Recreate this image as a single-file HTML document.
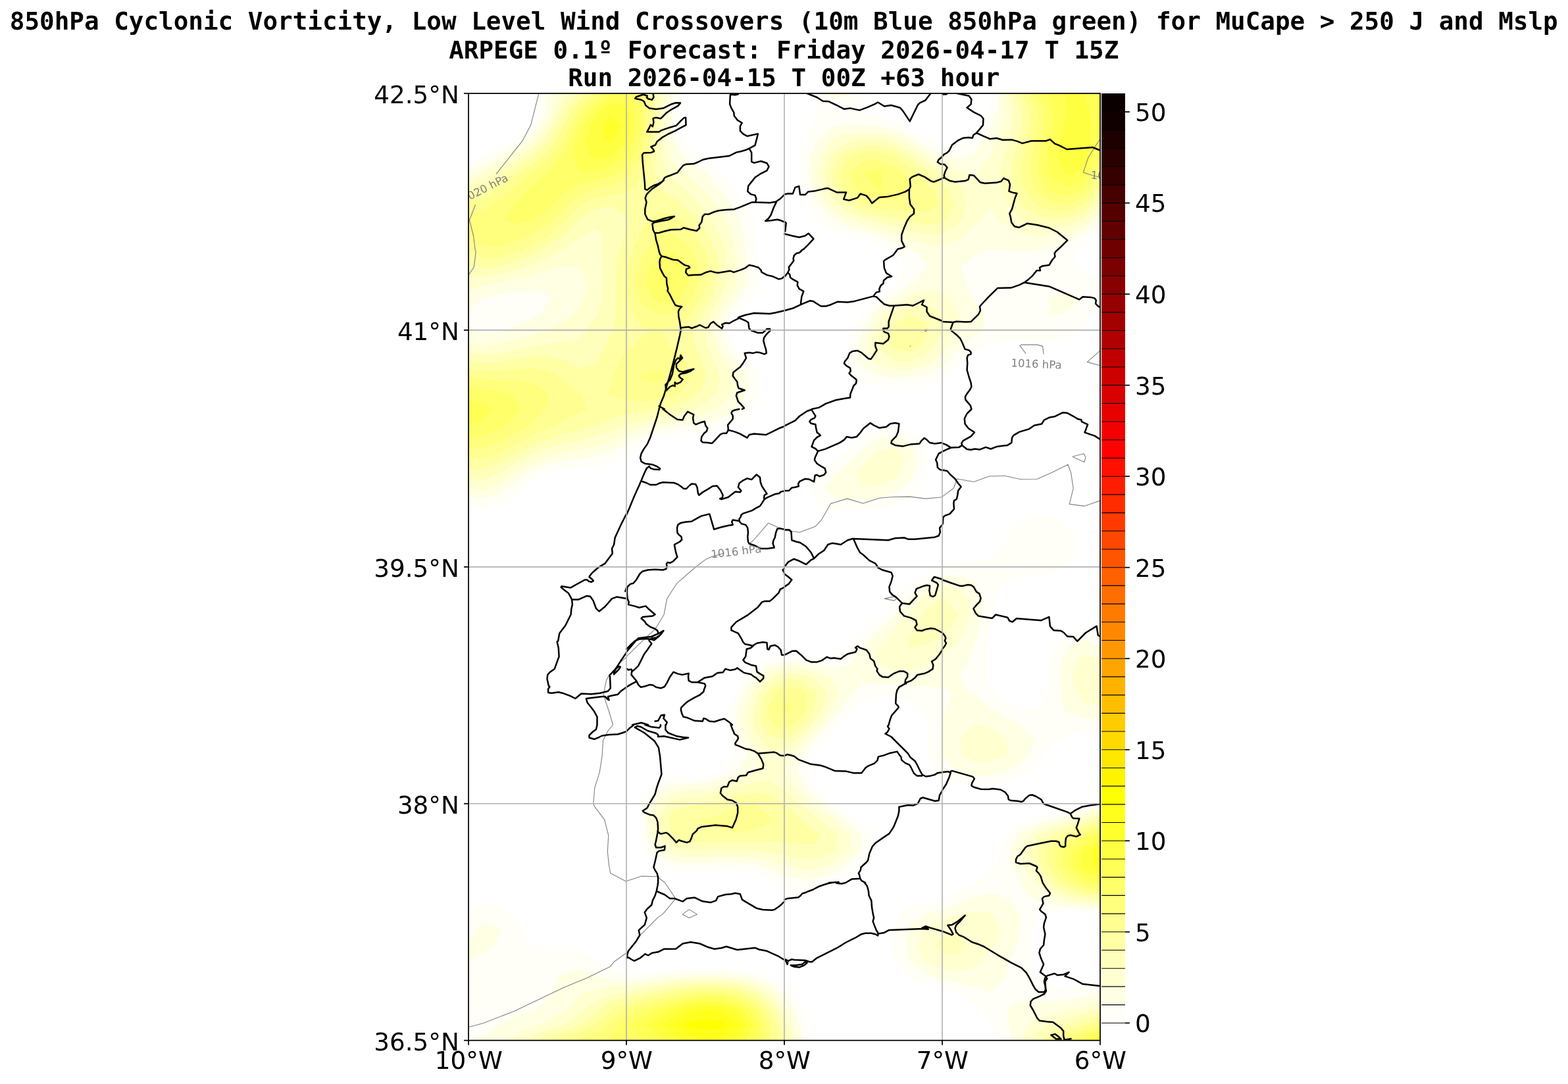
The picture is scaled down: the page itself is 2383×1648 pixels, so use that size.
<!DOCTYPE html>
<html><head><meta charset="utf-8"><title>850hPa Cyclonic Vorticity</title><style>html,body{margin:0;padding:0;background:#fff;overflow:hidden}svg{display:block}</style></head><body>
<svg width="2383" height="1648" viewBox="0 0 2383 1648">
<rect width="2383" height="1648" fill="#fff"/>
<defs><clipPath id="ax"><rect x="712.0" y="142.0" width="960.0" height="1439.7"/></clipPath></defs>
<g clip-path="url(#ax)">
<path fill="#fffff7" stroke="#fffff7" stroke-width="0.6" fill-rule="evenodd" d="M831.0,166.0L819.2,190.0L808.0,203.7L796.7,214.0L784.0,223.1L760.0,236.7L757.4,238.0L736.0,249.1L712.0,262.0L712.0,262.0L712.0,262.0L712.0,246.0L732.3,238.0L736.0,236.6L760.0,225.6L781.7,214.0L784.0,212.5L808.0,190.7L808.6,190.0L819.0,166.0L812.2,142.0L832.0,142.0ZM1024.0,142.0L1036.8,142.0L1030.9,166.0L1032.5,190.0L1041.5,214.0L1048.0,222.7L1070.7,238.0L1072.0,238.8L1095.9,262.0L1096.0,262.1L1114.5,286.0L1120.0,292.5L1135.3,310.0L1144.0,328.4L1146.5,334.0L1148.9,358.0L1150.2,382.0L1154.1,405.9L1154.4,429.9L1144.0,449.6L1141.8,453.9L1120.0,475.5L1118.2,477.9L1109.3,501.9L1117.4,525.9L1120.0,529.4L1142.7,549.9L1144.0,552.1L1156.6,573.9L1155.4,597.9L1144.9,621.9L1144.0,623.0L1120.0,642.6L1112.7,645.9L1096.0,652.0L1072.0,656.9L1048.0,658.9L1024.0,661.0L1000.0,665.6L987.8,669.9L976.0,676.9L952.0,691.5L946.9,693.9L928.0,704.1L904.0,710.0L880.0,712.0L856.0,713.2L832.0,717.5L831.1,717.9L808.0,731.0L793.3,741.9L784.0,751.4L761.2,765.9L760.0,766.6L736.0,773.2L712.0,771.6L712.0,765.9L712.0,756.3L736.0,758.2L760.0,750.2L771.5,741.9L784.0,733.2L804.6,717.9L808.0,715.8L832.0,705.7L856.0,700.7L880.0,697.9L902.7,693.9L904.0,693.6L928.0,686.2L952.0,674.7L959.7,669.9L976.0,662.7L1000.0,655.1L1024.0,650.5L1048.0,647.2L1055.9,645.9L1072.0,642.8L1096.0,634.8L1118.5,621.9L1120.0,620.3L1135.2,597.9L1137.1,573.9L1122.0,549.9L1120.0,548.1L1103.3,525.9L1096.7,501.9L1105.0,477.9L1120.0,457.4L1123.5,453.9L1136.7,429.9L1136.5,405.9L1132.5,382.0L1130.2,358.0L1125.9,334.0L1120.0,322.9L1111.7,310.0L1096.0,291.2L1091.9,286.0L1072.0,262.0L1072.0,262.0L1048.0,245.5L1039.9,238.0L1024.4,214.0L1024.0,212.5L1020.9,190.0L1020.3,166.0L1022.6,142.0ZM1240.0,142.0L1255.7,142.0L1264.0,148.0L1288.0,145.2L1293.1,142.0L1312.0,142.0L1325.0,142.0L1312.0,156.6L1295.0,166.0L1312.0,172.2L1336.0,178.3L1360.0,185.1L1368.9,190.0L1384.0,196.2L1408.0,211.8L1412.2,214.0L1432.0,223.2L1456.0,223.6L1471.1,214.0L1480.0,205.1L1490.2,190.0L1503.3,166.0L1504.0,164.5L1509.4,142.0L1518.4,142.0L1516.5,166.0L1508.2,190.0L1504.0,198.6L1494.5,214.0L1480.0,232.7L1467.5,238.0L1456.0,241.1L1442.9,238.0L1432.0,236.1L1408.0,223.7L1393.1,214.0L1384.0,207.9L1360.0,197.1L1336.0,192.6L1312.0,190.8L1288.6,190.0L1288.0,189.9L1287.7,190.0L1264.0,193.4L1242.7,214.0L1240.0,218.4L1231.9,238.0L1228.8,262.0L1232.6,286.0L1240.0,303.0L1243.3,310.0L1264.0,332.8L1265.7,334.0L1288.0,344.7L1312.0,351.3L1335.8,358.0L1336.0,358.0L1360.0,368.8L1384.0,379.9L1390.7,382.0L1408.0,402.7L1413.2,405.9L1408.0,408.4L1390.3,429.9L1384.0,432.8L1360.0,448.7L1354.0,453.9L1336.0,468.0L1325.9,477.9L1312.0,501.9L1312.0,502.0L1304.4,525.9L1305.4,549.9L1312.0,559.4L1336.0,571.6L1360.0,573.4L1384.0,572.6L1408.0,569.2L1432.0,557.0L1439.4,549.9L1456.0,531.8L1463.1,525.9L1480.0,509.2L1493.6,501.9L1496.9,477.9L1480.0,457.0L1478.5,453.9L1466.8,429.9L1460.3,405.9L1480.0,388.6L1496.4,382.0L1504.0,379.4L1528.0,380.6L1551.0,382.0L1552.0,382.0L1552.5,382.0L1576.0,380.5L1600.0,376.4L1624.0,368.3L1639.6,358.0L1648.0,354.5L1672.0,334.2L1672.0,347.9L1659.7,358.0L1648.0,372.2L1632.2,382.0L1634.3,405.9L1648.0,412.6L1672.0,424.7L1672.0,429.9L1672.0,453.9L1672.0,464.6L1660.1,477.9L1648.0,493.5L1637.6,501.9L1624.0,512.0L1600.0,518.1L1576.0,518.9L1552.0,517.7L1528.0,518.3L1504.0,523.5L1499.6,525.9L1480.0,534.4L1461.6,549.9L1456.0,556.2L1437.2,573.9L1432.0,578.0L1408.0,585.0L1384.0,586.2L1360.0,586.4L1336.0,586.2L1312.0,582.6L1297.1,573.9L1288.0,554.6L1286.6,549.9L1288.0,536.9L1288.9,525.9L1295.5,501.9L1310.7,477.9L1312.0,476.7L1335.1,453.9L1336.0,453.2L1360.0,432.6L1364.0,429.9L1375.8,405.9L1360.0,384.4L1358.2,382.0L1336.0,371.0L1312.0,362.3L1295.4,358.0L1288.0,356.3L1264.0,349.2L1243.9,334.0L1240.0,329.4L1227.6,310.0L1219.7,286.0L1216.8,262.0L1218.3,238.0L1224.6,214.0L1235.6,190.0L1240.0,172.3L1243.9,166.0L1240.0,163.6L1227.9,142.0ZM1593.2,453.9L1595.7,477.9L1600.0,479.2L1608.8,477.9L1624.0,472.2L1641.9,453.9L1624.0,445.3L1600.0,449.2ZM736.0,451.9L760.0,446.3L784.0,443.2L808.0,442.2L832.0,447.8L837.9,453.9L832.0,461.2L821.1,477.9L808.0,485.0L784.0,496.6L770.7,501.9L760.0,504.3L736.0,506.2L712.0,502.0L712.0,501.9L712.0,477.9L712.0,472.7L731.5,453.9ZM1312.0,664.0L1336.0,653.5L1360.0,650.3L1384.0,655.4L1400.3,669.9L1407.8,693.9L1405.1,717.9L1394.6,741.9L1384.0,754.8L1365.0,765.9L1360.0,768.1L1336.0,773.6L1312.0,776.0L1288.0,776.8L1264.0,775.0L1240.6,765.9L1240.0,765.2L1229.5,741.9L1240.0,723.3L1243.8,717.9L1264.0,704.5L1277.6,693.9L1288.0,684.5L1304.6,669.9ZM1330.8,669.9L1312.0,682.9L1299.6,693.9L1288.0,705.4L1271.0,717.9L1264.0,727.1L1253.5,741.9L1264.0,753.2L1288.0,760.4L1312.0,760.0L1336.0,756.8L1360.0,749.3L1370.7,741.9L1384.0,728.1L1389.7,717.9L1393.6,693.9L1384.0,673.0L1380.1,669.9L1360.0,663.2L1336.0,667.3ZM1576.0,784.6L1600.0,786.7L1607.7,789.9L1624.0,802.3L1631.4,813.9L1634.2,837.9L1624.0,858.8L1620.7,861.9L1600.0,869.6L1576.0,873.1L1552.0,875.6L1528.0,884.9L1527.3,885.8L1514.1,909.8L1509.3,933.8L1506.3,957.8L1504.0,974.6L1502.9,981.8L1499.4,1005.8L1500.7,1029.8L1504.0,1035.9L1512.3,1053.8L1528.0,1068.2L1548.1,1077.8L1552.0,1079.6L1574.1,1077.8L1576.0,1077.6L1592.6,1053.8L1595.4,1029.8L1595.3,1005.8L1600.0,985.7L1601.1,981.8L1624.0,960.7L1633.8,957.8L1648.0,953.8L1658.8,957.8L1672.0,962.5L1672.0,981.8L1672.0,982.0L1671.6,981.8L1648.0,972.7L1625.1,981.8L1624.0,982.7L1613.2,1005.8L1611.8,1029.8L1612.7,1053.8L1617.9,1077.8L1624.0,1083.7L1648.0,1091.7L1672.0,1092.5L1672.0,1101.8L1672.0,1113.7L1648.0,1112.0L1624.0,1115.1L1607.2,1125.8L1600.0,1131.4L1586.9,1149.8L1576.0,1160.5L1561.6,1173.8L1552.0,1180.4L1528.0,1190.2L1504.0,1194.8L1480.0,1195.1L1456.0,1191.3L1432.0,1181.9L1421.9,1173.8L1411.3,1149.8L1409.9,1125.8L1409.1,1101.8L1408.0,1097.2L1400.8,1077.8L1384.0,1066.0L1360.0,1059.7L1336.0,1058.5L1312.0,1064.9L1297.1,1077.8L1288.0,1086.3L1275.6,1101.8L1264.0,1113.5L1253.0,1125.8L1240.0,1139.5L1231.5,1149.8L1226.5,1173.8L1240.0,1196.3L1241.3,1197.8L1264.0,1215.9L1271.3,1221.8L1288.0,1233.5L1304.6,1245.8L1312.0,1253.3L1327.8,1269.8L1327.9,1293.8L1312.0,1311.1L1304.8,1317.8L1288.0,1328.7L1264.0,1340.8L1261.1,1341.8L1240.0,1351.7L1216.0,1354.2L1192.0,1348.0L1183.2,1341.8L1168.0,1335.0L1144.0,1325.5L1120.0,1321.4L1096.0,1321.6L1072.0,1323.2L1048.0,1323.8L1024.0,1321.8L1010.3,1317.8L1000.0,1314.6L978.7,1293.8L976.0,1285.6L971.3,1269.8L970.2,1245.8L973.7,1221.8L976.0,1216.2L986.4,1197.8L1000.0,1187.5L1024.0,1182.7L1048.0,1182.4L1072.0,1180.6L1094.7,1173.8L1096.0,1173.0L1116.3,1149.8L1111.2,1125.8L1104.1,1101.8L1105.8,1077.8L1117.0,1053.8L1120.0,1049.4L1130.5,1029.8L1144.0,1015.6L1159.4,1005.8L1168.0,1001.7L1192.0,997.3L1216.0,998.7L1240.0,1001.7L1264.0,1000.6L1288.0,986.3L1291.7,981.8L1312.0,959.2L1313.3,957.8L1336.0,938.7L1341.3,933.8L1360.0,914.4L1364.0,909.8L1384.0,889.6L1388.4,885.8L1408.0,870.6L1427.5,861.9L1432.0,859.0L1456.0,854.5L1480.0,854.7L1504.0,851.0L1517.1,837.9L1528.0,823.3L1533.5,813.9L1552.0,792.1L1557.2,789.9ZM1411.6,885.8L1408.0,887.6L1384.0,908.3L1382.4,909.8L1361.3,933.8L1360.0,935.3L1336.0,957.0L1335.0,957.8L1312.1,981.8L1312.0,982.1L1294.9,1005.8L1288.0,1013.1L1264.0,1016.0L1240.0,1012.3L1216.0,1008.2L1192.0,1007.2L1168.0,1013.2L1146.8,1029.8L1144.0,1033.7L1130.7,1053.8L1121.8,1077.8L1120.0,1096.4L1119.3,1101.8L1120.0,1104.1L1126.4,1125.8L1134.6,1149.8L1120.0,1172.9L1119.3,1173.8L1096.0,1184.1L1072.0,1190.6L1048.0,1192.3L1024.0,1193.6L1010.9,1197.8L1000.0,1202.9L986.0,1221.8L981.2,1245.8L982.6,1269.8L993.2,1293.8L1000.0,1300.4L1024.0,1310.5L1048.0,1312.8L1072.0,1312.4L1096.0,1311.3L1120.0,1311.2L1144.0,1313.6L1160.9,1317.8L1168.0,1320.3L1192.0,1330.3L1216.0,1336.0L1240.0,1334.9L1264.0,1327.5L1281.5,1317.8L1288.0,1313.3L1308.7,1293.8L1308.4,1269.8L1288.0,1249.0L1284.7,1245.8L1264.0,1230.5L1251.8,1221.8L1240.0,1212.1L1224.9,1197.8L1216.0,1182.5L1210.3,1173.8L1216.0,1155.0L1217.3,1149.8L1237.4,1125.8L1240.0,1122.9L1259.4,1101.8L1264.0,1094.9L1278.1,1077.8L1288.0,1061.5L1297.3,1053.8L1312.0,1039.7L1336.0,1038.7L1360.0,1040.8L1384.0,1042.5L1408.0,1043.2L1432.0,1045.2L1446.7,1053.8L1438.5,1077.8L1432.0,1101.8L1432.0,1102.0L1429.4,1125.8L1431.9,1149.8L1432.0,1150.0L1456.0,1173.6L1456.4,1173.8L1480.0,1179.4L1504.0,1179.6L1528.0,1174.6L1529.9,1173.8L1552.0,1159.4L1562.5,1149.8L1571.7,1125.8L1552.0,1102.1L1551.6,1101.8L1528.0,1091.3L1507.0,1077.8L1504.0,1075.1L1480.0,1055.7L1470.9,1053.8L1458.4,1029.8L1468.9,1005.8L1480.0,982.3L1480.1,981.8L1487.4,957.8L1491.5,933.8L1492.1,909.8L1483.1,885.8L1480.0,883.5L1456.0,874.5L1432.0,875.8ZM1672.0,1215.7L1672.0,1221.8L1672.0,1225.1L1648.0,1233.5L1624.0,1240.0L1601.0,1245.8L1600.0,1246.0L1576.0,1252.3L1552.0,1264.2L1545.6,1269.8L1535.0,1293.8L1537.6,1317.8L1551.7,1341.8L1552.0,1342.4L1566.0,1365.7L1576.0,1369.4L1600.0,1375.2L1624.0,1378.1L1648.0,1380.5L1672.0,1383.6L1672.0,1389.6L1648.0,1386.4L1624.0,1385.3L1600.0,1386.5L1587.7,1389.7L1576.0,1402.5L1571.2,1413.7L1567.0,1437.7L1566.5,1461.7L1576.0,1485.0L1576.5,1485.7L1600.0,1498.8L1624.0,1502.2L1648.0,1499.8L1672.0,1491.7L1672.0,1508.6L1668.8,1509.7L1648.0,1515.7L1624.0,1519.8L1600.0,1522.0L1576.0,1522.5L1552.0,1521.4L1530.5,1533.7L1533.6,1557.7L1537.7,1581.7L1528.0,1581.7L1522.3,1581.7L1506.9,1557.7L1504.0,1553.5L1489.1,1533.7L1480.0,1525.4L1456.8,1509.7L1456.0,1509.4L1432.0,1501.9L1408.0,1496.6L1384.0,1488.0L1380.0,1485.7L1360.7,1461.7L1360.0,1459.2L1353.8,1437.7L1354.8,1413.7L1360.0,1403.3L1368.9,1389.7L1384.0,1379.8L1408.0,1373.8L1432.0,1368.9L1440.2,1365.7L1456.0,1357.6L1480.0,1342.7L1482.6,1341.8L1504.0,1327.7L1512.4,1317.8L1518.7,1293.8L1528.0,1274.0L1529.7,1269.8L1552.0,1250.4L1564.2,1245.8L1576.0,1241.7L1600.0,1236.7L1624.0,1232.3L1648.0,1226.7L1662.5,1221.8ZM1476.4,1365.7L1456.0,1374.9L1432.0,1383.0L1408.0,1389.6L1407.5,1389.7L1384.0,1405.8L1378.0,1413.7L1374.6,1437.7L1382.4,1461.7L1384.0,1463.5L1408.0,1481.7L1418.9,1485.7L1432.0,1489.2L1456.0,1493.8L1480.0,1499.4L1504.0,1507.9L1528.0,1485.7L1528.0,1485.7L1534.0,1461.7L1543.8,1437.7L1550.8,1413.7L1550.5,1389.7L1530.0,1365.7L1528.0,1364.9L1504.0,1358.0L1480.0,1363.6ZM736.0,1375.9L760.0,1379.3L776.1,1389.7L784.0,1400.5L791.8,1413.7L807.4,1437.7L808.0,1438.4L832.0,1446.6L856.0,1444.9L880.0,1445.1L904.0,1457.2L908.2,1461.7L928.0,1473.8L952.0,1480.1L976.0,1479.7L1000.0,1476.6L1024.0,1474.0L1048.0,1472.8L1072.0,1472.6L1096.0,1472.9L1120.0,1474.0L1144.0,1477.0L1168.0,1483.9L1172.2,1485.7L1192.0,1496.0L1206.6,1509.7L1216.0,1527.9L1218.9,1533.7L1226.9,1557.7L1231.5,1581.7L1220.6,1581.7L1216.0,1564.8L1214.3,1557.7L1206.0,1533.7L1192.0,1513.7L1188.7,1509.7L1168.0,1494.6L1144.0,1486.7L1138.6,1485.7L1120.0,1482.1L1096.0,1480.1L1072.0,1479.7L1048.0,1480.4L1024.0,1482.4L1001.3,1485.7L1000.0,1485.9L976.0,1488.7L952.0,1490.3L928.0,1488.8L912.6,1485.7L904.0,1482.2L880.0,1474.5L856.0,1479.9L848.0,1485.7L838.6,1509.7L832.0,1517.8L815.7,1533.7L808.0,1536.7L784.0,1545.1L760.0,1557.0L758.8,1557.7L736.0,1576.2L714.5,1581.7L712.0,1581.7L712.0,1557.7L712.0,1533.7L712.0,1509.7L712.0,1485.7L712.0,1461.9L712.2,1461.7L736.0,1448.0L751.8,1437.7L760.0,1416.9L760.4,1413.7L760.0,1413.2L736.0,1402.1L722.5,1413.7L712.0,1434.9L712.0,1413.7L712.0,1389.7L712.0,1386.9Z"/>
<path fill="#ffffe3" stroke="#ffffe3" stroke-width="0.6" fill-rule="evenodd" d="M832.0,142.0L849.0,142.0L841.1,166.0L832.0,185.7L829.9,190.0L810.5,214.0L808.0,216.3L784.0,233.4L776.0,238.0L760.0,247.6L736.0,261.4L735.0,262.0L712.0,272.9L712.0,262.0L712.0,262.0L736.0,249.1L757.4,238.0L760.0,236.7L784.0,223.1L796.7,214.0L808.0,203.7L819.2,190.0L831.0,166.0L832.0,142.0ZM1020.3,166.0L1020.9,190.0L1024.0,212.5L1024.4,214.0L1039.9,238.0L1048.0,245.5L1072.0,262.0L1072.0,262.0L1091.9,286.0L1096.0,291.2L1111.7,310.0L1120.0,322.9L1125.9,334.0L1130.2,358.0L1132.5,382.0L1136.5,405.9L1136.7,429.9L1123.5,453.9L1120.0,457.4L1105.0,477.9L1096.7,501.9L1103.3,525.9L1120.0,548.1L1122.0,549.9L1137.1,573.9L1135.2,597.9L1120.0,620.3L1118.5,621.9L1096.0,634.8L1072.0,642.8L1055.9,645.9L1048.0,647.2L1024.0,650.5L1000.0,655.1L976.0,662.7L959.7,669.9L952.0,674.7L928.0,686.2L904.0,693.6L902.7,693.9L880.0,697.9L856.0,700.7L832.0,705.7L808.0,715.8L804.6,717.9L784.0,733.2L771.5,741.9L760.0,750.2L736.0,758.2L712.0,756.3L712.0,742.0L736.0,744.2L742.2,741.9L760.0,734.4L783.7,717.9L784.0,717.7L808.0,703.5L832.0,693.9L832.1,693.9L856.0,688.1L880.0,684.1L904.0,678.9L928.0,670.4L929.0,669.9L952.0,659.9L976.0,650.9L994.5,645.9L1000.0,644.6L1024.0,640.2L1048.0,635.7L1072.0,628.9L1088.3,621.9L1096.0,615.9L1113.5,597.9L1117.4,573.9L1104.2,549.9L1096.0,538.1L1089.2,525.9L1084.3,501.9L1092.1,477.9L1096.0,471.3L1108.1,453.9L1120.0,430.7L1120.4,429.9L1120.9,405.9L1120.0,401.3L1116.7,382.0L1112.5,358.0L1104.1,334.0L1096.0,322.0L1087.0,310.0L1072.0,290.8L1067.7,286.0L1048.0,268.4L1039.9,262.0L1024.0,247.4L1019.7,238.0L1014.4,214.0L1012.7,190.0L1012.4,166.0L1013.1,142.0L1022.6,142.0ZM1264.0,142.0L1288.0,142.0L1293.1,142.0L1288.0,145.2L1264.0,148.0L1255.7,142.0ZM1528.0,151.4L1529.3,166.0L1528.0,176.2L1525.3,190.0L1515.1,214.0L1504.3,238.0L1504.0,239.1L1486.4,262.0L1480.0,268.0L1470.9,262.0L1456.0,258.8L1432.0,249.1L1413.5,238.0L1408.0,235.1L1384.0,219.3L1373.6,214.0L1360.0,207.4L1336.0,202.4L1312.0,201.3L1288.0,203.0L1264.0,212.8L1262.8,214.0L1245.5,238.0L1240.8,262.0L1244.8,286.0L1257.4,310.0L1264.0,317.2L1288.0,333.2L1289.9,334.0L1312.0,341.5L1336.0,348.0L1360.0,355.3L1368.4,358.0L1384.0,364.6L1408.0,371.4L1432.0,372.7L1456.0,365.1L1466.5,358.0L1480.0,341.9L1490.3,334.0L1504.0,317.1L1517.0,334.0L1528.0,341.3L1552.0,355.3L1567.3,358.0L1576.0,359.4L1599.3,358.0L1600.0,357.9L1624.0,353.2L1648.0,343.1L1658.8,334.0L1672.0,321.7L1672.0,334.0L1672.0,334.2L1648.0,354.5L1639.6,358.0L1624.0,368.3L1600.0,376.4L1576.0,380.5L1552.5,382.0L1552.0,382.0L1551.0,382.0L1528.0,380.6L1504.0,379.4L1496.4,382.0L1480.0,388.6L1460.3,405.9L1466.8,429.9L1478.5,453.9L1480.0,457.0L1496.9,477.9L1493.6,501.9L1480.0,509.2L1463.1,525.9L1456.0,531.8L1439.4,549.9L1432.0,557.0L1408.0,569.2L1384.0,572.6L1360.0,573.4L1336.0,571.6L1312.0,559.4L1305.4,549.9L1304.4,525.9L1312.0,502.0L1312.0,501.9L1325.9,477.9L1336.0,468.0L1354.0,453.9L1360.0,448.7L1384.0,432.8L1390.3,429.9L1408.0,408.4L1413.2,405.9L1408.0,402.7L1390.7,382.0L1384.0,379.9L1360.0,368.8L1336.0,358.0L1335.8,358.0L1312.0,351.3L1288.0,344.7L1265.7,334.0L1264.0,332.8L1243.3,310.0L1240.0,303.0L1232.6,286.0L1228.8,262.0L1231.9,238.0L1240.0,218.4L1242.7,214.0L1264.0,193.4L1287.7,190.0L1288.0,189.9L1288.6,190.0L1312.0,190.8L1336.0,192.6L1360.0,197.1L1384.0,207.9L1393.1,214.0L1408.0,223.7L1432.0,236.1L1442.9,238.0L1456.0,241.1L1467.5,238.0L1480.0,232.7L1494.5,214.0L1504.0,198.6L1508.2,190.0L1516.5,166.0L1518.4,142.0L1527.3,142.0ZM1377.4,453.9L1360.0,462.3L1340.8,477.9L1336.0,484.0L1324.4,501.9L1319.3,525.9L1326.9,549.9L1336.0,556.0L1360.0,561.5L1384.0,560.9L1408.0,554.7L1416.0,549.9L1432.0,535.0L1440.4,525.9L1455.4,501.9L1456.0,493.9L1457.7,477.9L1456.0,474.3L1445.0,453.9L1432.0,441.9L1408.0,441.2L1384.0,449.6ZM856.0,402.9L880.0,404.5L881.3,405.9L890.7,429.9L887.4,453.9L880.0,466.8L870.9,477.9L856.0,489.4L832.2,501.9L832.0,502.0L808.0,509.4L784.0,516.1L760.0,521.9L736.0,525.3L712.0,522.8L712.0,502.0L736.0,506.2L760.0,504.3L770.7,501.9L784.0,496.6L808.0,485.0L821.1,477.9L832.0,461.2L837.9,453.9L832.0,447.8L808.0,442.2L784.0,443.2L760.0,446.3L736.0,451.9L731.5,453.9L712.0,472.7L712.0,453.9L712.0,442.7L736.0,434.2L753.0,429.9L760.0,428.7L784.0,424.4L808.0,418.6L832.0,410.4L846.2,405.9ZM1600.0,449.2L1624.0,445.3L1641.9,453.9L1624.0,472.2L1608.8,477.9L1600.0,479.2L1595.7,477.9L1593.2,453.9ZM1336.0,667.3L1360.0,663.2L1380.1,669.9L1384.0,673.0L1393.6,693.9L1389.7,717.9L1384.0,728.1L1370.7,741.9L1360.0,749.3L1336.0,756.8L1312.0,760.0L1288.0,760.4L1264.0,753.2L1253.5,741.9L1264.0,727.1L1271.0,717.9L1288.0,705.4L1299.6,693.9L1312.0,682.9L1330.8,669.9ZM1323.8,693.9L1312.0,708.6L1302.5,717.9L1311.2,741.9L1312.0,742.0L1312.8,741.9L1336.0,737.8L1360.0,727.5L1369.3,717.9L1375.7,693.9L1360.0,680.5L1336.0,685.5ZM1432.0,875.8L1456.0,874.5L1480.0,883.5L1483.1,885.8L1492.1,909.8L1491.5,933.8L1487.4,957.8L1480.1,981.8L1480.0,982.3L1468.9,1005.8L1458.4,1029.8L1470.9,1053.8L1480.0,1055.7L1504.0,1075.1L1507.0,1077.8L1528.0,1091.3L1551.6,1101.8L1552.0,1102.1L1571.7,1125.8L1562.5,1149.8L1552.0,1159.4L1529.9,1173.8L1528.0,1174.6L1504.0,1179.6L1480.0,1179.4L1456.4,1173.8L1456.0,1173.6L1432.0,1150.0L1431.9,1149.8L1429.4,1125.8L1432.0,1102.0L1432.0,1101.8L1438.5,1077.8L1446.7,1053.8L1432.0,1045.2L1408.0,1043.2L1384.0,1042.5L1360.0,1040.8L1336.0,1038.7L1312.0,1039.7L1297.3,1053.8L1288.0,1061.5L1278.1,1077.8L1264.0,1094.9L1259.4,1101.8L1240.0,1122.9L1237.4,1125.8L1217.3,1149.8L1216.0,1155.0L1210.3,1173.8L1216.0,1182.5L1224.9,1197.8L1240.0,1212.1L1251.8,1221.8L1264.0,1230.5L1284.7,1245.8L1288.0,1249.0L1308.4,1269.8L1308.7,1293.8L1288.0,1313.3L1281.5,1317.8L1264.0,1327.5L1240.0,1334.9L1216.0,1336.0L1192.0,1330.3L1168.0,1320.3L1160.9,1317.8L1144.0,1313.6L1120.0,1311.2L1096.0,1311.3L1072.0,1312.4L1048.0,1312.8L1024.0,1310.5L1000.0,1300.4L993.2,1293.8L982.6,1269.8L981.2,1245.8L986.0,1221.8L1000.0,1202.9L1010.9,1197.8L1024.0,1193.6L1048.0,1192.3L1072.0,1190.6L1096.0,1184.1L1119.3,1173.8L1120.0,1172.9L1134.6,1149.8L1126.4,1125.8L1120.0,1104.1L1119.3,1101.8L1120.0,1096.4L1121.8,1077.8L1130.7,1053.8L1144.0,1033.7L1146.8,1029.8L1168.0,1013.2L1192.0,1007.2L1216.0,1008.2L1240.0,1012.3L1264.0,1016.0L1288.0,1013.1L1294.9,1005.8L1312.0,982.1L1312.1,981.8L1335.0,957.8L1336.0,957.0L1360.0,935.3L1361.3,933.8L1382.4,909.8L1384.0,908.3L1408.0,887.6L1411.6,885.8ZM1400.9,909.8L1384.0,929.0L1379.7,933.8L1360.0,955.5L1357.4,957.8L1336.0,980.8L1335.1,981.8L1331.0,1005.8L1336.0,1010.4L1360.0,1019.4L1384.0,1019.5L1408.0,1012.1L1419.0,1005.8L1432.0,997.8L1450.6,981.8L1456.0,976.9L1467.6,957.8L1474.2,933.8L1471.0,909.8L1456.0,894.7L1432.0,892.1L1408.0,903.7ZM1160.2,1029.8L1144.0,1052.4L1143.0,1053.8L1133.3,1077.8L1131.6,1101.8L1140.5,1125.8L1144.0,1133.9L1156.7,1149.8L1147.5,1173.8L1144.0,1174.8L1120.0,1185.7L1096.0,1194.9L1084.5,1197.8L1072.0,1200.8L1048.0,1202.4L1024.0,1204.8L1000.0,1218.8L997.8,1221.8L991.1,1245.8L993.0,1269.8L1000.0,1283.2L1011.1,1293.8L1024.0,1300.1L1048.0,1303.2L1072.0,1302.9L1096.0,1302.1L1120.0,1302.0L1144.0,1303.4L1168.0,1307.6L1192.0,1314.8L1202.8,1317.8L1216.0,1321.2L1240.0,1321.4L1251.9,1317.8L1264.0,1313.6L1288.0,1296.6L1291.0,1293.8L1291.4,1269.8L1288.0,1266.3L1266.7,1245.8L1264.0,1243.8L1240.0,1227.1L1233.2,1221.8L1216.0,1205.6L1207.8,1197.8L1192.3,1173.8L1199.1,1149.8L1216.0,1136.1L1224.7,1125.8L1240.0,1109.1L1246.7,1101.8L1262.7,1077.8L1264.0,1073.9L1274.2,1053.8L1264.0,1033.1L1261.7,1029.8L1240.0,1022.2L1216.0,1016.3L1192.0,1015.4L1168.0,1023.7ZM1479.6,1101.8L1457.4,1125.8L1464.6,1149.8L1480.0,1157.1L1504.0,1158.5L1528.0,1151.2L1530.3,1149.8L1533.0,1125.8L1528.0,1121.6L1504.0,1107.1L1481.1,1101.8L1480.0,1101.6ZM1648.0,972.7L1671.6,981.8L1672.0,982.0L1672.0,1001.9L1648.0,994.4L1635.1,1005.8L1629.1,1029.8L1634.0,1053.8L1648.0,1069.2L1672.0,1072.6L1672.0,1077.8L1672.0,1092.5L1648.0,1091.7L1624.0,1083.7L1617.9,1077.8L1612.7,1053.8L1611.8,1029.8L1613.2,1005.8L1624.0,982.7L1625.1,981.8ZM1624.0,1240.0L1648.0,1233.5L1672.0,1225.1L1672.0,1231.4L1648.0,1240.3L1629.9,1245.8L1624.0,1247.5L1600.0,1253.8L1576.0,1262.1L1562.4,1269.8L1552.0,1288.1L1549.3,1293.8L1552.0,1303.4L1555.7,1317.8L1570.8,1341.8L1576.0,1347.5L1600.0,1364.0L1604.6,1365.7L1624.0,1370.8L1648.0,1374.6L1672.0,1377.6L1672.0,1383.6L1648.0,1380.5L1624.0,1378.1L1600.0,1375.2L1576.0,1369.4L1566.0,1365.7L1552.0,1342.4L1551.7,1341.7L1537.6,1317.8L1535.0,1293.8L1545.6,1269.8L1552.0,1264.2L1576.0,1252.3L1600.0,1246.0L1601.0,1245.8ZM1480.0,1363.6L1504.0,1358.0L1528.0,1364.9L1530.0,1365.7L1550.5,1389.7L1550.8,1413.7L1543.8,1437.7L1534.0,1461.7L1528.0,1485.7L1528.0,1485.7L1504.0,1507.9L1480.0,1499.4L1456.0,1493.8L1432.0,1489.2L1418.9,1485.7L1408.0,1481.7L1384.0,1463.5L1382.4,1461.7L1374.6,1437.7L1378.0,1413.7L1384.0,1405.8L1407.5,1389.7L1408.0,1389.6L1432.0,1383.0L1456.0,1374.9L1476.4,1365.7ZM1462.8,1389.7L1456.0,1391.5L1432.0,1399.2L1408.0,1409.8L1403.0,1413.7L1395.2,1437.7L1405.2,1461.7L1408.0,1463.9L1432.0,1474.0L1456.0,1476.3L1480.0,1470.8L1492.4,1461.7L1504.0,1447.2L1510.8,1437.7L1521.0,1413.7L1509.0,1389.7L1504.0,1386.8L1480.0,1385.5ZM736.0,1402.1L760.0,1413.2L760.4,1413.7L760.0,1416.9L751.8,1437.7L736.0,1448.0L712.2,1461.7L712.0,1461.9L712.0,1461.7L712.0,1437.7L712.0,1434.9L722.5,1413.7ZM856.0,1479.9L880.0,1474.5L904.0,1482.2L912.6,1485.7L928.0,1488.8L952.0,1490.3L976.0,1488.7L1000.0,1485.9L1001.3,1485.7L1024.0,1482.4L1048.0,1480.4L1072.0,1479.7L1096.0,1480.1L1120.0,1482.1L1138.6,1485.7L1144.0,1486.7L1168.0,1494.6L1188.7,1509.7L1192.0,1513.7L1206.0,1533.7L1214.3,1557.7L1216.0,1564.8L1220.6,1581.7L1216.0,1581.7L1210.6,1581.7L1204.9,1557.7L1194.2,1533.7L1192.0,1530.6L1174.7,1509.7L1168.0,1504.8L1144.0,1493.7L1120.0,1488.8L1096.0,1486.9L1072.0,1486.5L1048.0,1487.3L1024.0,1489.3L1000.0,1492.4L976.0,1495.9L952.0,1498.8L928.0,1500.7L904.0,1503.9L890.3,1509.7L880.0,1516.5L863.5,1533.7L856.0,1538.6L832.0,1551.5L819.9,1557.7L808.0,1561.4L784.0,1572.3L771.5,1581.7L760.0,1581.7L736.0,1581.7L714.5,1581.7L736.0,1576.2L758.8,1557.7L760.0,1557.0L784.0,1545.1L808.0,1536.7L815.7,1533.7L832.0,1517.8L838.6,1509.7L848.0,1485.7ZM1672.0,1508.6L1672.0,1509.7L1672.0,1520.9L1648.0,1529.0L1630.2,1533.7L1624.0,1535.1L1600.0,1540.2L1576.0,1548.5L1563.7,1557.7L1552.1,1581.7L1552.0,1581.7L1537.7,1581.7L1533.6,1557.7L1530.5,1533.7L1552.0,1521.4L1576.0,1522.5L1600.0,1522.0L1624.0,1519.8L1648.0,1515.7L1668.8,1509.7Z"/>
<path fill="#ffffd0" stroke="#ffffd0" stroke-width="0.6" fill-rule="evenodd" d="M856.0,142.0L864.6,142.0L856.0,154.9L851.0,166.0L839.2,190.0L832.0,201.4L821.9,214.0L808.0,227.2L792.6,238.0L784.0,243.9L760.0,258.5L754.0,262.0L736.0,273.6L712.0,283.7L712.0,272.9L735.0,262.0L736.0,261.4L760.0,247.6L776.0,238.0L784.0,233.4L808.0,216.3L810.5,214.0L829.9,190.0L832.0,185.7L841.1,166.0L849.0,142.0ZM1012.4,166.0L1012.7,190.0L1014.4,214.0L1019.7,238.0L1024.0,247.4L1039.9,262.0L1048.0,268.4L1067.7,286.0L1072.0,290.8L1087.0,310.0L1096.0,322.0L1104.1,334.0L1112.5,358.0L1116.7,382.0L1120.0,401.3L1120.9,405.9L1120.4,429.9L1120.0,430.7L1108.1,453.9L1096.0,471.3L1092.1,477.9L1084.3,501.9L1089.2,525.9L1096.0,538.1L1104.2,549.9L1117.4,573.9L1113.5,597.9L1096.0,615.9L1088.3,621.9L1072.0,628.9L1048.0,635.7L1024.0,640.2L1000.0,644.6L994.5,645.9L976.0,650.9L952.0,659.9L929.0,669.9L928.0,670.4L904.0,678.9L880.0,684.1L856.0,688.1L832.1,693.9L832.0,693.9L808.0,703.5L784.0,717.7L783.7,717.9L760.0,734.4L742.2,741.9L736.0,744.2L712.0,742.0L712.0,741.9L712.0,727.3L736.0,729.2L760.0,719.0L761.6,717.9L784.0,704.0L802.5,693.9L808.0,691.0L832.0,681.3L856.0,675.3L880.0,670.4L882.2,669.9L904.0,663.3L928.0,654.6L952.0,646.0L952.3,645.9L976.0,638.8L1000.0,634.1L1024.0,629.9L1048.0,624.2L1055.0,621.9L1072.0,611.4L1088.7,597.9L1096.0,573.9L1086.3,549.9L1075.0,525.9L1072.0,501.9L1079.6,477.9L1093.6,453.9L1096.0,448.4L1105.1,429.9L1106.3,405.9L1102.1,382.0L1096.0,360.5L1095.1,358.0L1081.6,334.0L1072.0,321.6L1062.3,310.0L1048.0,294.2L1037.9,286.0L1024.0,275.1L1013.4,262.0L1006.2,238.0L1004.6,214.0L1004.5,190.0L1004.4,166.0L1003.6,142.0L1013.1,142.0ZM1528.0,142.0L1535.6,142.0L1540.8,166.0L1540.0,190.0L1533.3,214.0L1528.0,231.2L1525.1,238.0L1519.4,262.0L1521.6,286.0L1528.0,299.3L1532.1,310.0L1552.0,333.2L1553.3,334.0L1576.0,343.6L1600.0,345.5L1624.0,342.0L1642.8,334.0L1648.0,331.9L1671.4,310.0L1672.0,309.2L1672.0,310.0L1672.0,321.7L1658.8,334.0L1648.0,343.1L1624.0,353.2L1600.0,357.9L1599.3,358.0L1576.0,359.4L1567.3,358.0L1552.0,355.3L1528.0,341.3L1517.0,334.0L1504.0,317.1L1490.3,334.0L1480.0,341.9L1466.5,358.0L1456.0,365.1L1432.0,372.7L1408.0,371.4L1384.0,364.6L1368.4,358.0L1360.0,355.3L1336.0,348.0L1312.0,341.5L1289.9,334.0L1288.0,333.2L1264.0,317.2L1257.4,310.0L1244.8,286.0L1240.8,262.0L1245.5,238.0L1262.8,214.0L1264.0,212.8L1288.0,203.0L1312.0,201.3L1336.0,202.4L1360.0,207.4L1373.6,214.0L1384.0,219.3L1408.0,235.1L1413.5,238.0L1432.0,249.1L1456.0,258.8L1470.9,262.0L1480.0,268.0L1486.4,262.0L1504.0,239.1L1504.3,238.0L1515.1,214.0L1525.3,190.0L1528.0,176.2L1529.3,166.0L1528.0,151.4L1527.3,142.0ZM1298.0,214.0L1288.0,215.9L1264.0,231.4L1259.2,238.0L1252.1,262.0L1256.4,286.0L1264.0,299.2L1272.3,310.0L1288.0,321.7L1312.0,331.6L1320.7,334.0L1336.0,338.0L1360.0,344.0L1384.0,350.8L1408.0,355.6L1432.0,354.6L1456.0,340.4L1461.9,334.0L1468.9,310.0L1461.7,286.0L1456.0,281.1L1432.0,262.0L1432.0,262.0L1408.0,247.4L1395.7,238.0L1384.0,230.2L1360.0,217.8L1343.8,214.0L1336.0,212.3L1312.0,211.7ZM904.0,346.7L915.9,358.0L915.0,382.0L915.9,405.9L916.7,429.9L914.7,453.9L907.4,477.9L904.0,485.0L891.1,501.9L880.0,513.8L856.0,520.2L832.0,522.4L814.3,525.9L808.0,526.9L784.0,532.0L760.0,536.4L736.0,538.8L712.0,537.1L712.0,525.9L712.0,522.8L736.0,525.3L760.0,521.9L784.0,516.1L808.0,509.4L832.0,502.0L832.2,501.9L856.0,489.4L870.9,477.9L880.0,466.8L887.4,453.9L890.7,429.9L881.3,405.9L880.0,404.5L856.0,402.9L846.2,405.9L832.0,410.4L808.0,418.6L784.0,424.4L760.0,428.7L753.0,429.9L736.0,434.2L712.0,442.7L712.0,429.9L712.0,421.3L736.0,420.1L760.0,416.6L784.0,410.8L797.5,405.9L808.0,401.9L832.0,391.0L849.5,382.0L856.0,378.1L880.0,361.5L887.4,358.0ZM1384.0,449.6L1408.0,441.2L1432.0,441.9L1445.0,453.9L1456.0,474.3L1457.7,477.9L1456.0,493.9L1455.4,501.9L1440.4,525.9L1432.0,535.0L1416.0,549.9L1408.0,554.7L1384.0,560.9L1360.0,561.5L1336.0,556.0L1326.9,549.9L1319.3,525.9L1324.4,501.9L1336.0,484.0L1340.8,477.9L1360.0,462.3L1377.4,453.9ZM1355.9,477.9L1337.0,501.9L1336.0,509.1L1333.7,525.9L1336.0,530.9L1360.0,549.4L1384.0,549.0L1408.0,538.0L1420.8,525.9L1432.0,502.0L1432.0,501.9L1432.0,501.7L1429.5,477.9L1408.0,462.7L1384.0,464.1L1360.0,474.5ZM1336.0,685.5L1360.0,680.5L1375.7,693.9L1369.3,717.9L1360.0,727.5L1336.0,737.8L1312.8,741.9L1312.0,742.0L1311.2,741.9L1302.5,717.9L1312.0,708.6L1323.8,693.9ZM1408.0,903.7L1432.0,892.1L1456.0,894.7L1471.0,909.8L1474.2,933.8L1467.6,957.8L1456.0,976.9L1450.6,981.8L1432.0,997.8L1419.0,1005.8L1408.0,1012.1L1384.0,1019.5L1360.0,1019.4L1336.0,1010.4L1331.0,1005.8L1335.1,981.8L1336.0,980.8L1357.4,957.8L1360.0,955.5L1379.7,933.8L1384.0,929.0L1400.9,909.8ZM1430.0,909.8L1408.0,926.1L1401.4,933.8L1386.4,957.8L1384.0,965.7L1376.8,981.8L1384.0,985.9L1400.1,981.8L1408.0,979.4L1432.0,966.8L1441.7,957.8L1455.8,933.8L1435.5,909.8L1432.0,908.9ZM1648.0,994.4L1672.0,1001.9L1672.0,1005.8L1672.0,1029.8L1672.0,1053.8L1672.0,1072.6L1648.0,1069.2L1634.0,1053.8L1629.1,1029.8L1635.1,1005.8ZM1168.0,1023.7L1192.0,1015.4L1216.0,1016.3L1240.0,1022.2L1261.7,1029.8L1264.0,1033.1L1274.2,1053.8L1264.0,1073.9L1262.7,1077.8L1246.7,1101.8L1240.0,1109.1L1224.7,1125.8L1216.0,1136.1L1199.1,1149.8L1192.3,1173.8L1207.8,1197.8L1216.0,1205.6L1233.2,1221.8L1240.0,1227.1L1264.0,1243.8L1266.7,1245.8L1288.0,1266.3L1291.4,1269.8L1291.0,1293.8L1288.0,1296.6L1264.0,1313.6L1251.9,1317.8L1240.0,1321.4L1216.0,1321.2L1202.8,1317.8L1192.0,1314.8L1168.0,1307.6L1144.0,1303.4L1120.0,1302.0L1096.0,1302.1L1072.0,1302.9L1048.0,1303.2L1024.0,1300.1L1011.1,1293.8L1000.0,1283.2L993.0,1269.8L991.1,1245.8L997.8,1221.8L1000.0,1218.8L1024.0,1204.8L1048.0,1202.4L1072.0,1200.8L1084.5,1197.8L1096.0,1194.9L1120.0,1185.7L1144.0,1174.8L1147.5,1173.8L1156.7,1149.8L1144.0,1133.9L1140.5,1125.8L1131.6,1101.8L1133.3,1077.8L1143.0,1053.8L1144.0,1052.4L1160.2,1029.8ZM1176.4,1029.8L1168.0,1035.4L1153.7,1053.8L1144.7,1077.8L1144.0,1096.4L1143.8,1101.8L1144.0,1102.4L1157.3,1125.8L1168.0,1138.2L1192.0,1140.0L1209.7,1125.8L1216.0,1121.6L1234.3,1101.8L1240.0,1093.2L1250.4,1077.8L1256.8,1053.8L1240.0,1033.9L1233.9,1029.8L1216.0,1024.4L1192.0,1023.5ZM1120.5,1197.8L1120.0,1197.9L1096.0,1206.1L1072.0,1211.4L1048.0,1212.8L1024.0,1216.2L1015.0,1221.8L1001.4,1245.8L1005.1,1269.8L1024.0,1287.9L1048.0,1293.5L1072.0,1293.3L1096.0,1292.5L1120.0,1292.4L1144.0,1293.1L1150.8,1293.8L1168.0,1295.2L1192.0,1299.7L1216.0,1305.5L1240.0,1306.5L1264.0,1298.3L1270.3,1293.8L1272.8,1269.8L1264.0,1261.3L1245.4,1245.8L1240.0,1242.1L1216.0,1223.6L1214.1,1221.8L1192.0,1200.8L1186.7,1197.8L1168.0,1187.1L1144.0,1190.2ZM1480.0,1101.6L1481.1,1101.8L1504.0,1107.1L1528.0,1121.6L1533.0,1125.8L1530.3,1149.8L1528.0,1151.2L1504.0,1158.5L1480.0,1157.1L1464.6,1149.8L1457.4,1125.8L1479.6,1101.8ZM1648.0,1240.3L1672.0,1231.4L1672.0,1237.6L1651.2,1245.8L1648.0,1247.0L1624.0,1254.1L1600.0,1261.5L1580.1,1269.8L1576.0,1274.1L1562.8,1293.8L1569.1,1317.8L1576.0,1327.7L1585.7,1341.8L1600.0,1353.2L1624.0,1363.5L1632.9,1365.7L1648.0,1368.7L1672.0,1371.7L1672.0,1377.6L1648.0,1374.6L1624.0,1370.8L1604.6,1365.7L1600.0,1364.0L1576.0,1347.5L1570.8,1341.8L1555.7,1317.8L1552.0,1303.4L1549.3,1293.8L1552.0,1288.1L1562.4,1269.8L1576.0,1262.1L1600.0,1253.8L1624.0,1247.5L1629.9,1245.8ZM1480.0,1385.5L1504.0,1386.8L1509.0,1389.7L1521.0,1413.7L1510.8,1437.7L1504.0,1447.2L1492.4,1461.7L1480.0,1470.8L1456.0,1476.3L1432.0,1474.0L1408.0,1463.9L1405.2,1461.7L1395.2,1437.7L1403.0,1413.7L1408.0,1409.8L1432.0,1399.2L1456.0,1391.5L1462.8,1389.7ZM1422.2,1437.7L1432.0,1450.6L1456.0,1449.8L1468.8,1437.7L1456.0,1415.7L1432.0,1423.7ZM904.0,1503.9L928.0,1500.7L952.0,1498.8L976.0,1495.9L1000.0,1492.4L1024.0,1489.3L1048.0,1487.3L1072.0,1486.5L1096.0,1486.9L1120.0,1488.8L1144.0,1493.7L1168.0,1504.8L1174.7,1509.7L1192.0,1530.6L1194.2,1533.7L1204.9,1557.7L1210.6,1581.7L1201.3,1581.7L1195.5,1557.7L1192.0,1550.2L1184.5,1533.7L1168.0,1515.1L1161.0,1509.7L1144.0,1500.7L1120.0,1494.5L1096.0,1492.0L1072.0,1491.5L1048.0,1492.6L1024.0,1495.2L1000.0,1498.9L976.0,1503.1L952.0,1507.3L939.2,1509.7L928.0,1512.6L904.0,1523.1L890.8,1533.7L880.0,1542.2L857.1,1557.7L856.0,1558.1L832.0,1565.7L808.0,1575.5L797.5,1581.7L784.0,1581.7L771.5,1581.7L784.0,1572.3L808.0,1561.4L819.9,1557.7L832.0,1551.5L856.0,1538.6L863.5,1533.7L880.0,1516.5L890.3,1509.7ZM1648.0,1529.0L1672.0,1520.9L1672.0,1533.0L1669.9,1533.7L1648.0,1540.0L1624.0,1546.8L1600.0,1555.6L1595.5,1557.7L1576.0,1569.5L1566.8,1581.7L1552.1,1581.7L1563.7,1557.7L1576.0,1548.5L1600.0,1540.2L1624.0,1535.1L1630.2,1533.7Z"/>
<path fill="#ffffbc" stroke="#ffffbc" stroke-width="0.6" fill-rule="evenodd" d="M856.0,154.9L864.6,142.0L879.1,142.0L860.7,166.0L856.0,174.7L848.2,190.0L833.3,214.0L832.0,215.7L808.2,238.0L808.0,238.1L784.0,254.7L772.0,262.0L760.0,271.0L736.0,285.8L735.6,286.0L712.0,295.0L712.0,286.0L712.0,283.7L736.0,273.6L754.0,262.0L760.0,258.5L784.0,243.9L792.6,238.0L808.0,227.2L821.9,214.0L832.0,201.4L839.2,190.0L851.0,166.0ZM1000.0,142.0L1003.6,142.0L1004.4,166.0L1004.5,190.0L1004.6,214.0L1006.2,238.0L1013.4,262.0L1024.0,275.1L1037.9,286.0L1048.0,294.2L1062.3,310.0L1072.0,321.6L1081.6,334.0L1095.1,358.0L1096.0,360.5L1102.1,382.0L1106.3,405.9L1105.1,429.9L1096.0,448.4L1093.6,453.9L1079.6,477.9L1072.0,501.9L1075.0,525.9L1086.3,549.9L1096.0,573.9L1088.7,597.9L1072.0,611.4L1055.0,621.9L1048.0,624.2L1024.0,629.9L1000.0,634.1L976.0,638.8L952.3,645.9L952.0,646.0L928.0,654.6L904.0,663.3L882.2,669.9L880.0,670.4L856.0,675.3L832.0,681.3L808.0,691.0L802.5,693.9L784.0,704.0L761.6,717.9L760.0,719.0L736.0,729.2L712.0,727.3L712.0,717.9L712.0,712.5L736.0,713.6L760.0,703.5L776.8,693.9L784.0,690.1L808.0,677.8L828.7,669.9L832.0,668.2L856.0,659.9L880.0,653.4L904.0,646.5L905.7,645.9L928.0,636.2L952.0,630.0L976.0,626.5L1000.0,623.7L1010.8,621.9L1024.0,618.5L1048.0,607.6L1062.3,597.9L1072.0,576.9L1073.2,573.9L1072.0,569.2L1067.2,549.9L1055.2,525.9L1053.0,501.9L1065.7,477.9L1072.0,468.4L1080.0,453.9L1090.2,429.9L1091.8,405.9L1087.1,382.0L1077.2,358.0L1072.0,350.0L1059.1,334.0L1048.0,321.0L1035.0,310.0L1024.0,301.0L1002.3,286.0L1000.0,282.6L994.0,262.0L994.5,238.0L995.9,214.0L996.9,190.0L996.9,166.0L994.8,142.0ZM1552.0,165.5L1552.2,166.0L1553.7,190.0L1552.0,199.5L1548.5,214.0L1540.9,238.0L1537.1,262.0L1540.2,286.0L1552.0,309.6L1552.2,310.0L1576.0,328.0L1600.0,333.1L1624.0,331.0L1648.0,321.5L1660.3,310.0L1672.0,294.9L1672.0,309.2L1671.4,310.0L1648.0,331.9L1642.8,334.0L1624.0,342.0L1600.0,345.5L1576.0,343.6L1553.3,334.0L1552.0,333.2L1532.1,310.0L1528.0,299.3L1521.6,286.0L1519.4,262.0L1525.1,238.0L1528.0,231.2L1533.3,214.0L1540.0,190.0L1540.8,166.0L1535.6,142.0L1543.8,142.0ZM1312.0,211.7L1336.0,212.3L1343.8,214.0L1360.0,217.8L1384.0,230.2L1395.7,238.0L1408.0,247.4L1432.0,262.0L1432.0,262.0L1456.0,281.1L1461.7,286.0L1468.9,310.0L1461.9,334.0L1456.0,340.4L1432.0,354.6L1408.0,355.6L1384.0,350.8L1360.0,344.0L1336.0,338.0L1320.7,334.0L1312.0,331.6L1288.0,321.7L1272.3,310.0L1264.0,299.2L1256.4,286.0L1252.1,262.0L1259.2,238.0L1264.0,231.4L1288.0,215.9L1298.0,214.0ZM1275.0,238.0L1264.0,260.3L1263.5,262.0L1264.0,265.0L1268.4,286.0L1287.8,310.0L1288.0,310.1L1312.0,321.4L1336.0,327.5L1360.0,332.5L1366.1,334.0L1384.0,338.1L1408.0,341.8L1432.0,338.3L1438.5,334.0L1449.4,310.0L1439.8,286.0L1432.0,279.3L1411.3,262.0L1408.0,260.0L1384.0,242.0L1378.5,238.0L1360.0,228.1L1336.0,222.1L1312.0,221.9L1288.0,228.4ZM880.0,332.8L904.0,317.7L928.0,313.6L952.0,327.6L954.8,334.0L952.0,346.6L949.7,358.0L941.2,382.0L936.8,405.9L935.5,429.9L935.6,453.9L935.9,477.9L931.5,501.9L928.0,508.7L919.7,525.9L907.3,549.9L904.0,554.4L880.0,559.3L861.3,549.9L856.0,547.9L832.0,541.7L808.0,542.5L784.0,546.1L760.7,549.9L760.0,550.0L736.0,551.9L712.0,550.2L712.0,549.9L712.0,537.1L736.0,538.8L760.0,536.4L784.0,532.0L808.0,526.9L814.3,525.9L832.0,522.4L856.0,520.2L880.0,513.8L891.1,501.9L904.0,485.0L907.4,477.9L914.7,453.9L916.7,429.9L915.9,405.9L915.0,382.0L915.9,358.0L904.0,346.7L887.4,358.0L880.0,361.5L856.0,378.1L849.5,382.0L832.0,391.0L808.0,401.9L797.5,405.9L784.0,410.8L760.0,416.6L736.0,420.1L712.0,421.3L712.0,405.9L712.0,401.6L729.3,405.9L736.0,407.1L746.2,405.9L760.0,404.4L784.0,397.5L808.0,387.3L818.2,382.0L832.0,374.2L855.5,358.0L856.0,357.5L878.9,334.0ZM1360.0,474.5L1384.0,464.1L1408.0,462.7L1429.5,477.9L1432.0,501.7L1432.0,501.9L1432.0,502.0L1420.8,525.9L1408.0,538.0L1384.0,549.0L1360.0,549.4L1336.0,530.9L1333.7,525.9L1336.0,509.1L1337.0,501.9L1355.9,477.9ZM1383.7,477.9L1360.0,491.3L1351.6,501.9L1352.6,525.9L1360.0,532.3L1384.0,534.1L1399.2,525.9L1408.0,512.4L1412.7,501.9L1408.0,490.7L1384.8,477.9L1384.0,477.8ZM1432.0,908.9L1435.5,909.8L1455.8,933.8L1441.7,957.8L1432.0,966.8L1408.0,979.4L1400.1,981.8L1384.0,985.9L1376.8,981.8L1384.0,965.7L1386.4,957.8L1401.4,933.8L1408.0,926.1L1430.0,909.8ZM1192.0,1023.5L1216.0,1024.4L1233.9,1029.8L1240.0,1033.9L1256.8,1053.8L1250.4,1077.8L1240.0,1093.2L1234.3,1101.8L1216.0,1121.6L1209.7,1125.8L1192.0,1140.0L1168.0,1138.2L1157.3,1125.8L1144.0,1102.4L1143.8,1101.8L1144.0,1096.4L1144.7,1077.8L1153.7,1053.8L1168.0,1035.4L1176.4,1029.8ZM1164.2,1053.8L1155.7,1077.8L1157.1,1101.8L1168.0,1118.0L1192.0,1124.2L1216.0,1108.4L1222.1,1101.8L1237.9,1077.8L1240.0,1063.3L1241.6,1053.8L1240.0,1051.9L1216.0,1034.2L1192.0,1032.5L1168.0,1048.9ZM1144.0,1190.2L1168.0,1187.1L1186.7,1197.8L1192.0,1200.8L1214.1,1221.8L1216.0,1223.6L1240.0,1242.1L1245.4,1245.8L1264.0,1261.3L1272.8,1269.8L1270.3,1293.8L1264.0,1298.3L1240.0,1306.5L1216.0,1305.5L1192.0,1299.7L1168.0,1295.2L1150.8,1293.8L1144.0,1293.1L1120.0,1292.4L1096.0,1292.5L1072.0,1293.3L1048.0,1293.5L1024.0,1287.9L1005.1,1269.8L1001.4,1245.8L1015.0,1221.8L1024.0,1216.2L1048.0,1212.8L1072.0,1211.4L1096.0,1206.1L1120.0,1197.9L1120.5,1197.8ZM1073.0,1221.8L1072.0,1222.1L1048.0,1224.6L1024.0,1233.7L1016.4,1245.8L1020.7,1269.8L1024.0,1273.0L1048.0,1279.6L1072.0,1279.7L1096.0,1279.8L1120.0,1280.2L1144.0,1280.0L1168.0,1279.3L1192.0,1279.5L1216.0,1284.0L1240.0,1282.3L1246.4,1269.8L1240.0,1264.9L1216.1,1245.8L1216.0,1245.7L1192.0,1222.1L1191.7,1221.8L1168.0,1207.7L1144.0,1205.8L1120.0,1210.8L1096.0,1217.5ZM1672.0,1237.6L1672.0,1243.9L1667.2,1245.8L1648.0,1253.0L1624.0,1260.8L1600.0,1269.3L1598.9,1269.8L1576.1,1293.8L1581.5,1317.8L1599.0,1341.8L1600.0,1342.5L1624.0,1356.1L1648.0,1362.7L1672.0,1365.7L1672.0,1365.7L1672.0,1371.7L1648.0,1368.7L1632.9,1365.7L1624.0,1363.5L1600.0,1353.2L1585.7,1341.8L1576.0,1327.7L1569.1,1317.8L1562.8,1293.8L1576.0,1274.1L1580.1,1269.8L1600.0,1261.5L1624.0,1254.1L1648.0,1247.0L1651.2,1245.8ZM1432.0,1423.7L1456.0,1415.7L1468.8,1437.7L1456.0,1449.8L1432.0,1450.6L1422.2,1437.7ZM952.0,1507.3L976.0,1503.1L1000.0,1498.9L1024.0,1495.2L1048.0,1492.6L1072.0,1491.5L1096.0,1492.0L1120.0,1494.5L1144.0,1500.7L1161.0,1509.7L1168.0,1515.1L1184.5,1533.7L1192.0,1550.2L1195.5,1557.7L1201.3,1581.7L1192.0,1581.7L1192.0,1581.7L1186.9,1557.7L1175.3,1533.7L1168.0,1525.4L1147.7,1509.7L1144.0,1507.8L1120.0,1500.2L1096.0,1497.1L1072.0,1496.5L1048.0,1497.9L1024.0,1501.1L1000.0,1505.5L978.7,1509.7L976.0,1510.3L952.0,1516.0L928.0,1524.3L912.3,1533.7L904.0,1540.6L882.7,1557.7L880.0,1559.1L856.0,1568.0L832.0,1576.6L821.2,1581.7L808.0,1581.7L797.5,1581.7L808.0,1575.5L832.0,1565.7L856.0,1558.1L857.1,1557.7L880.0,1542.2L890.8,1533.7L904.0,1523.1L928.0,1512.6L939.2,1509.7ZM1672.0,1533.0L1672.0,1533.7L1672.0,1541.6L1648.0,1549.6L1625.6,1557.7L1624.0,1558.2L1600.0,1567.8L1581.7,1581.7L1576.0,1581.7L1566.8,1581.7L1576.0,1569.5L1595.5,1557.7L1600.0,1555.6L1624.0,1546.8L1648.0,1540.0L1669.9,1533.7Z"/>
<path fill="#ffffa4" stroke="#ffffa4" stroke-width="0.6" fill-rule="evenodd" d="M880.0,142.0L891.6,142.0L880.0,153.4L870.2,166.0L857.2,190.0L856.0,192.4L843.6,214.0L832.0,229.3L822.7,238.0L808.0,250.3L790.1,262.0L784.0,266.9L760.0,284.3L757.3,286.0L736.0,300.4L712.0,306.5L712.0,295.0L735.6,286.0L736.0,285.8L760.0,271.0L772.0,262.0L784.0,254.7L808.0,238.1L808.2,238.0L832.0,215.7L833.3,214.0L848.2,190.0L856.0,174.7L860.7,166.0L879.1,142.0ZM996.9,166.0L996.9,190.0L995.9,214.0L994.5,238.0L994.0,262.0L1000.0,282.6L1002.3,286.0L1024.0,301.0L1035.0,310.0L1048.0,321.0L1059.1,334.0L1072.0,350.0L1077.2,358.0L1087.1,382.0L1091.8,405.9L1090.2,429.9L1080.0,453.9L1072.0,468.4L1065.7,477.9L1053.0,501.9L1055.2,525.9L1067.2,549.9L1072.0,569.2L1073.2,573.9L1072.0,576.9L1062.3,597.9L1048.0,607.6L1024.0,618.5L1010.8,621.9L1000.0,623.7L976.0,626.5L952.0,630.0L928.0,636.2L905.7,645.9L904.0,646.5L880.0,653.4L856.0,659.9L832.0,668.2L828.7,669.9L808.0,677.8L784.0,690.1L776.8,693.9L760.0,703.5L736.0,713.6L712.0,712.5L712.0,697.3L736.0,697.1L744.2,693.9L760.0,687.8L784.0,675.5L795.7,669.9L808.0,662.5L832.0,650.7L846.1,645.9L856.0,639.5L880.0,627.0L893.0,621.9L883.5,597.9L880.0,597.1L856.0,578.2L851.6,573.9L832.0,563.1L808.0,559.8L784.0,561.3L760.0,563.5L736.0,564.2L712.0,562.1L712.0,550.2L736.0,551.9L760.0,550.0L760.7,549.9L784.0,546.1L808.0,542.5L832.0,541.7L856.0,547.9L861.3,549.9L880.0,559.3L904.0,554.4L907.3,549.9L919.7,525.9L928.0,508.7L931.5,501.9L935.9,477.9L935.6,453.9L935.5,429.9L936.8,405.9L941.2,382.0L949.7,358.0L952.0,346.6L954.8,334.0L952.0,327.6L928.0,313.6L904.0,317.7L880.0,332.8L878.9,334.0L856.0,357.5L855.5,358.0L832.0,374.2L818.2,382.0L808.0,387.3L784.0,397.5L760.0,404.4L746.2,405.9L736.0,407.1L729.3,405.9L712.0,401.6L712.0,382.0L736.0,392.7L760.0,391.3L784.0,384.4L789.5,382.0L808.0,372.2L832.0,358.7L833.0,358.0L856.0,338.4L860.3,334.0L880.0,313.9L886.0,310.0L904.0,301.4L928.0,296.2L952.0,291.2L961.1,286.0L976.0,267.9L977.8,262.0L984.3,238.0L988.1,214.0L990.0,190.0L990.0,166.0L986.4,142.0L994.8,142.0ZM987.0,334.0L976.0,348.8L972.2,358.0L961.4,382.0L954.2,405.9L952.0,426.3L951.6,429.9L952.0,434.6L953.7,453.9L962.9,477.9L976.0,497.7L993.0,501.9L976.0,511.5L964.8,525.9L952.0,534.4L941.8,549.9L931.2,573.9L928.0,589.9L921.7,597.9L928.0,600.7L952.0,607.9L976.0,609.8L1000.0,608.4L1024.0,602.4L1033.1,597.9L1048.0,576.2L1049.2,573.9L1048.0,568.4L1042.5,549.9L1024.0,528.7L1017.1,525.9L1006.0,501.9L1024.0,499.1L1048.0,480.7L1049.5,477.9L1066.1,453.9L1072.0,439.4L1075.9,429.9L1077.4,405.9L1072.0,382.0L1072.0,382.0L1057.2,358.0L1048.0,346.7L1032.2,334.0L1024.0,327.1L1000.0,322.1ZM1552.0,142.0L1552.0,142.0L1563.5,166.0L1565.2,190.0L1560.9,214.0L1555.1,238.0L1552.0,262.0L1556.2,286.0L1573.1,310.0L1576.0,312.2L1600.0,321.0L1624.0,320.4L1648.0,311.1L1649.2,310.0L1668.4,286.0L1672.0,279.4L1672.0,286.0L1672.0,294.9L1660.3,310.0L1648.0,321.5L1624.0,331.0L1600.0,333.1L1576.0,328.0L1552.2,310.0L1552.0,309.6L1540.2,286.0L1537.1,262.0L1540.9,238.0L1548.5,214.0L1552.0,199.5L1553.7,190.0L1552.2,166.0L1552.0,165.5L1543.8,142.0ZM1288.0,228.4L1312.0,221.9L1336.0,222.1L1360.0,228.1L1378.5,238.0L1384.0,242.0L1408.0,260.0L1411.3,262.0L1432.0,279.3L1439.8,286.0L1449.4,310.0L1438.5,334.0L1432.0,338.3L1408.0,341.8L1384.0,338.1L1366.1,334.0L1360.0,332.5L1336.0,327.5L1312.0,321.4L1288.0,310.1L1287.8,310.0L1268.4,286.0L1264.0,265.0L1263.5,262.0L1264.0,260.3L1275.0,238.0ZM1294.9,238.0L1288.0,243.1L1276.5,262.0L1281.3,286.0L1288.0,294.2L1309.3,310.0L1312.0,311.3L1336.0,316.7L1360.0,319.4L1384.0,322.2L1408.0,323.3L1428.8,310.0L1416.6,286.0L1408.0,279.0L1391.9,262.0L1384.0,256.1L1360.0,238.7L1358.4,238.0L1336.0,231.9L1312.0,232.1ZM1384.0,477.8L1384.8,477.9L1408.0,490.7L1412.7,501.9L1408.0,512.4L1399.2,525.9L1384.0,534.1L1360.0,532.3L1352.6,525.9L1351.6,501.9L1360.0,491.3L1383.7,477.9ZM1382.2,501.9L1384.0,503.6L1385.0,501.9L1384.0,501.1ZM1168.0,1048.9L1192.0,1032.5L1216.0,1034.2L1240.0,1051.9L1241.6,1053.8L1240.0,1063.3L1237.9,1077.8L1222.1,1101.8L1216.0,1108.4L1192.0,1124.2L1168.0,1118.0L1157.1,1101.8L1155.7,1077.8L1164.2,1053.8ZM1178.6,1053.8L1168.0,1073.8L1166.6,1077.8L1168.0,1087.5L1174.4,1101.8L1192.0,1109.4L1204.2,1101.8L1216.0,1091.3L1224.5,1077.8L1224.8,1053.8L1216.0,1047.1L1192.0,1044.3ZM1096.0,1217.5L1120.0,1210.8L1144.0,1205.8L1168.0,1207.7L1191.7,1221.8L1192.0,1222.1L1216.0,1245.7L1216.1,1245.8L1240.0,1264.9L1246.4,1269.8L1240.0,1282.3L1216.0,1284.0L1192.0,1279.5L1168.0,1279.3L1144.0,1280.0L1120.0,1280.2L1096.0,1279.8L1072.0,1279.7L1048.0,1279.6L1024.0,1273.0L1020.7,1269.8L1016.4,1245.8L1024.0,1233.7L1048.0,1224.6L1072.0,1222.1L1073.0,1221.8ZM1142.0,1221.8L1120.0,1227.1L1096.0,1238.1L1072.0,1244.2L1048.2,1245.8L1072.0,1250.8L1096.0,1259.8L1120.0,1264.8L1144.0,1262.5L1168.0,1251.3L1173.6,1245.8L1168.0,1238.4L1145.1,1221.8L1144.0,1221.6ZM1672.0,1243.9L1672.0,1245.8L1672.0,1249.8L1648.0,1259.1L1624.0,1267.4L1617.5,1269.8L1600.0,1282.6L1589.2,1293.8L1592.9,1317.8L1600.0,1327.5L1611.9,1341.8L1624.0,1348.7L1648.0,1356.5L1672.0,1359.8L1672.0,1365.7L1648.0,1362.7L1624.0,1356.1L1600.0,1342.5L1599.0,1341.7L1581.5,1317.8L1576.1,1293.8L1598.9,1269.8L1600.0,1269.3L1624.0,1260.8L1648.0,1253.0L1667.2,1245.8ZM1000.0,1505.5L1024.0,1501.1L1048.0,1497.9L1072.0,1496.5L1096.0,1497.1L1120.0,1500.2L1144.0,1507.8L1147.7,1509.7L1168.0,1525.4L1175.3,1533.7L1186.9,1557.7L1192.0,1581.7L1181.6,1581.7L1178.8,1557.7L1168.0,1536.9L1166.2,1533.7L1144.0,1515.2L1131.6,1509.7L1120.0,1505.9L1096.0,1502.3L1072.0,1501.6L1048.0,1503.3L1024.0,1507.0L1010.3,1509.7L1000.0,1512.2L976.0,1518.0L952.0,1524.8L931.9,1533.7L928.0,1536.6L904.0,1556.9L902.9,1557.7L880.0,1569.6L856.0,1577.9L845.9,1581.7L832.0,1581.7L821.2,1581.7L832.0,1576.6L856.0,1568.0L880.0,1559.1L882.7,1557.7L904.0,1540.6L912.3,1533.7L928.0,1524.3L952.0,1516.0L976.0,1510.3L978.7,1509.7ZM1648.0,1549.6L1672.0,1541.6L1672.0,1550.0L1651.4,1557.7L1648.0,1558.8L1624.0,1566.8L1600.0,1579.4L1597.0,1581.7L1581.7,1581.7L1600.0,1567.8L1624.0,1558.2L1625.6,1557.7Z"/>
<path fill="#ffff91" stroke="#ffff91" stroke-width="0.6" fill-rule="evenodd" d="M880.0,153.4L891.6,142.0L904.0,142.0L904.0,142.0L904.0,142.0L880.0,165.6L879.7,166.0L866.4,190.0L856.0,210.3L853.9,214.0L837.5,238.0L832.0,244.4L809.1,262.0L808.0,262.9L784.0,282.0L778.5,286.0L760.0,303.1L747.9,310.0L736.0,319.1L712.0,326.5L712.0,310.0L712.0,306.5L736.0,300.4L757.3,286.0L760.0,284.3L784.0,266.9L790.1,262.0L808.0,250.3L822.7,238.0L832.0,229.3L843.6,214.0L856.0,192.4L857.2,190.0L870.2,166.0ZM990.0,166.0L990.0,190.0L988.1,214.0L984.3,238.0L977.8,262.0L976.0,267.9L961.1,286.0L952.0,291.2L928.0,296.2L904.0,301.4L886.0,310.0L880.0,313.9L860.3,334.0L856.0,338.4L833.0,358.0L832.0,358.7L808.0,372.2L789.5,382.0L784.0,384.4L760.0,391.3L736.0,392.7L712.0,382.0L712.0,382.0L712.0,358.5L736.0,374.7L760.0,375.5L784.0,367.2L805.0,358.0L808.0,356.4L832.0,341.7L841.0,334.0L856.0,318.6L864.5,310.0L880.0,297.5L904.0,287.7L910.5,286.0L928.0,281.4L952.0,271.2L960.6,262.0L973.8,238.0L976.0,231.9L980.3,214.0L983.2,190.0L983.1,166.0L978.0,142.0L986.4,142.0ZM1574.8,166.0L1576.0,181.4L1576.7,190.0L1576.0,193.9L1572.5,214.0L1567.0,238.0L1564.9,262.0L1571.5,286.0L1576.0,292.0L1600.0,308.6L1624.0,309.9L1648.0,299.3L1658.7,286.0L1672.0,262.0L1672.0,279.4L1668.4,286.0L1649.2,310.0L1648.0,311.1L1624.0,320.4L1600.0,321.0L1576.0,312.2L1573.1,310.0L1556.2,286.0L1552.0,262.0L1555.1,238.0L1560.9,214.0L1565.2,190.0L1563.5,166.0L1552.0,142.0L1562.7,142.0ZM1312.0,232.1L1336.0,231.9L1358.4,238.0L1360.0,238.7L1384.0,256.1L1391.9,262.0L1408.0,279.0L1416.6,286.0L1428.8,310.0L1408.0,323.3L1384.0,322.2L1360.0,319.4L1336.0,316.7L1312.0,311.3L1309.3,310.0L1288.0,294.2L1281.3,286.0L1276.5,262.0L1288.0,243.1L1294.9,238.0ZM1290.7,262.0L1297.5,286.0L1312.0,297.0L1336.0,303.6L1360.0,303.1L1384.0,291.6L1387.0,286.0L1384.0,282.7L1371.2,262.0L1360.0,254.1L1336.0,243.9L1312.0,245.1ZM1000.0,322.1L1024.0,327.1L1032.2,334.0L1048.0,346.7L1057.2,358.0L1072.0,382.0L1072.0,382.0L1077.4,405.9L1075.9,429.9L1072.0,439.4L1066.1,453.9L1049.5,477.9L1048.0,480.7L1024.0,499.1L1006.0,501.9L1017.1,525.9L1024.0,528.7L1042.5,549.9L1048.0,568.4L1049.2,573.9L1048.0,576.2L1033.1,597.9L1024.0,602.4L1000.0,608.4L976.0,609.8L952.0,607.9L928.0,600.7L921.7,597.9L928.0,589.9L931.2,573.9L941.8,549.9L952.0,534.4L964.8,525.9L976.0,511.5L993.0,501.9L976.0,497.7L962.9,477.9L953.7,453.9L952.0,434.6L951.6,429.9L952.0,426.3L954.2,405.9L961.4,382.0L972.2,358.0L976.0,348.8L987.0,334.0ZM999.8,358.0L981.3,382.0L976.0,390.4L969.7,405.9L965.9,429.9L970.4,453.9L976.0,463.3L998.9,477.9L1000.0,478.6L1007.0,477.9L1024.0,476.8L1048.0,459.2L1051.7,453.9L1061.5,429.9L1061.9,405.9L1053.3,382.0L1048.0,373.8L1028.3,358.0L1024.0,354.5L1000.0,357.7ZM973.2,573.9L976.0,576.9L1000.0,581.8L1011.9,573.9L1000.0,560.9L976.0,569.2ZM1384.0,501.1L1385.0,501.9L1384.0,503.6L1382.2,501.9ZM736.0,564.2L760.0,563.5L784.0,561.3L808.0,559.8L832.0,563.1L851.6,573.9L856.0,578.2L880.0,597.1L883.5,597.9L893.0,621.9L880.0,627.0L856.0,639.5L846.1,645.9L832.0,650.7L808.0,662.5L795.7,669.9L784.0,675.5L760.0,687.8L744.2,693.9L736.0,697.1L712.0,697.3L712.0,693.9L712.0,682.0L736.0,680.5L760.0,671.8L763.9,669.9L784.0,658.1L805.1,645.9L808.0,642.7L832.0,622.0L832.1,621.9L833.4,597.9L832.0,596.5L808.0,581.8L784.0,578.2L760.0,577.8L736.0,577.0L712.0,574.0L712.0,573.9L712.0,562.1ZM1192.0,1044.3L1216.0,1047.1L1224.8,1053.8L1224.5,1077.8L1216.0,1091.3L1204.2,1101.8L1192.0,1109.4L1174.4,1101.8L1168.0,1087.5L1166.6,1077.8L1168.0,1073.8L1178.6,1053.8ZM1186.0,1077.8L1192.0,1086.8L1202.8,1077.8L1192.0,1063.5ZM1144.0,1221.6L1145.1,1221.8L1168.0,1238.4L1173.6,1245.8L1168.0,1251.3L1144.0,1262.5L1120.0,1264.8L1096.0,1259.8L1072.0,1250.8L1048.2,1245.8L1072.0,1244.2L1096.0,1238.1L1120.0,1227.1L1142.0,1221.8ZM1624.0,1267.4L1648.0,1259.1L1672.0,1249.8L1672.0,1255.6L1648.0,1265.1L1635.0,1269.8L1624.0,1276.7L1602.3,1293.8L1604.2,1317.8L1624.0,1340.9L1625.0,1341.8L1648.0,1350.4L1672.0,1353.8L1672.0,1359.8L1648.0,1356.5L1624.0,1348.7L1611.9,1341.8L1600.0,1327.5L1592.9,1317.8L1589.2,1293.8L1600.0,1282.6L1617.5,1269.8ZM1024.0,1507.0L1048.0,1503.3L1072.0,1501.6L1096.0,1502.3L1120.0,1505.9L1131.6,1509.7L1144.0,1515.2L1166.2,1533.7L1168.0,1536.9L1178.8,1557.7L1181.6,1581.7L1171.2,1581.7L1170.6,1557.7L1168.0,1552.6L1157.2,1533.7L1144.0,1522.7L1120.0,1511.7L1110.0,1509.7L1096.0,1507.4L1072.0,1506.6L1048.0,1508.6L1041.3,1509.7L1024.0,1513.2L1000.0,1519.2L976.0,1525.6L952.0,1533.6L951.7,1533.7L928.0,1551.4L920.6,1557.7L904.0,1571.3L880.0,1580.0L875.1,1581.7L856.0,1581.7L845.9,1581.7L856.0,1577.9L880.0,1569.6L902.9,1557.7L904.0,1556.9L928.0,1536.6L931.9,1533.7L952.0,1524.8L976.0,1518.0L1000.0,1512.2L1010.3,1509.7ZM1672.0,1550.0L1672.0,1557.7L1672.0,1558.2L1648.0,1565.7L1624.0,1575.4L1612.5,1581.7L1600.0,1581.7L1597.0,1581.7L1600.0,1579.4L1624.0,1566.8L1648.0,1558.8L1651.4,1557.7Z"/>
<path fill="#ffff7d" stroke="#ffff7d" stroke-width="0.6" fill-rule="evenodd" d="M880.0,165.6L904.0,142.0L904.0,142.0L918.3,142.0L904.0,152.4L890.2,166.0L880.0,182.0L875.6,190.0L864.9,214.0L856.0,232.4L852.4,238.0L832.0,262.0L832.0,262.0L808.0,282.6L803.4,286.0L784.0,307.2L780.9,310.0L767.0,334.0L784.0,340.1L808.0,335.7L811.2,334.0L832.0,319.9L841.6,310.0L856.0,295.1L869.6,286.0L880.0,280.9L904.0,274.3L928.0,267.9L939.3,262.0L952.0,253.4L962.4,238.0L971.8,214.0L976.0,192.4L976.3,190.0L976.2,166.0L976.0,164.9L965.6,142.0L976.0,142.0L978.0,142.0L983.1,166.0L983.2,190.0L980.3,214.0L976.0,231.9L973.8,238.0L960.6,262.0L952.0,271.2L928.0,281.4L910.5,286.0L904.0,287.7L880.0,297.5L864.5,310.0L856.0,318.6L841.0,334.0L832.0,341.7L808.0,356.4L805.0,358.0L784.0,367.2L760.0,375.5L736.0,374.7L712.0,358.5L712.0,358.0L712.0,334.0L712.0,326.5L736.0,319.1L747.9,310.0L760.0,303.1L778.5,286.0L784.0,282.0L808.0,262.9L809.1,262.0L832.0,244.4L837.5,238.0L853.9,214.0L856.0,210.3L866.4,190.0L879.7,166.0ZM1576.0,147.0L1587.7,166.0L1588.4,190.0L1584.1,214.0L1579.1,238.0L1578.0,262.0L1590.0,286.0L1600.0,293.6L1624.0,297.5L1648.0,287.4L1649.1,286.0L1662.8,262.0L1672.0,239.1L1672.0,262.0L1672.0,262.0L1658.7,286.0L1648.0,299.3L1624.0,309.9L1600.0,308.6L1576.0,292.0L1571.5,286.0L1564.9,262.0L1567.0,238.0L1572.5,214.0L1576.0,193.9L1576.7,190.0L1576.0,181.4L1574.8,166.0L1562.7,142.0L1573.5,142.0ZM1312.0,245.1L1336.0,243.9L1360.0,254.1L1371.2,262.0L1384.0,282.7L1387.0,286.0L1384.0,291.6L1360.0,303.1L1336.0,303.6L1312.0,297.0L1297.5,286.0L1290.7,262.0ZM1312.1,262.0L1332.3,286.0L1336.0,286.8L1339.4,286.0L1341.4,262.0L1336.0,259.7ZM1000.0,357.7L1024.0,354.5L1028.3,358.0L1048.0,373.8L1053.3,382.0L1061.9,405.9L1061.5,429.9L1051.7,453.9L1048.0,459.2L1024.0,476.8L1007.0,477.9L1000.0,478.6L998.9,477.9L976.0,463.3L970.4,453.9L965.9,429.9L969.7,405.9L976.0,390.4L981.3,382.0L999.8,358.0ZM988.1,405.9L981.5,429.9L991.6,453.9L1000.0,460.4L1024.0,459.8L1031.6,453.9L1046.7,429.9L1044.4,405.9L1024.0,382.7L1000.0,388.7ZM976.0,569.2L1000.0,560.9L1011.9,573.9L1000.0,581.8L976.0,576.9L973.2,573.9ZM736.0,577.0L760.0,577.8L784.0,578.2L808.0,581.8L832.0,596.5L833.4,597.9L832.1,621.9L832.0,622.0L808.0,642.7L805.1,645.9L784.0,658.1L763.9,669.9L760.0,671.8L736.0,680.5L712.0,682.0L712.0,669.9L712.0,665.9L736.0,662.7L760.0,652.4L771.3,645.9L784.0,630.5L791.8,621.9L784.0,607.2L773.9,597.9L760.0,594.9L736.0,591.5L712.0,588.2L712.0,574.0ZM1192.0,1063.5L1202.8,1077.8L1192.0,1086.8L1186.0,1077.8ZM1648.0,1265.1L1672.0,1255.6L1672.0,1261.4L1651.2,1269.8L1648.0,1271.9L1624.0,1287.2L1615.7,1293.8L1615.6,1317.8L1624.0,1327.6L1641.3,1341.8L1648.0,1344.3L1672.0,1347.9L1672.0,1353.8L1648.0,1350.4L1625.0,1341.8L1624.0,1340.9L1604.2,1317.8L1602.3,1293.8L1624.0,1276.7L1635.0,1269.8ZM1048.0,1508.6L1072.0,1506.6L1096.0,1507.4L1110.0,1509.7L1120.0,1511.7L1144.0,1522.7L1157.2,1533.7L1168.0,1552.6L1170.6,1557.7L1171.2,1581.7L1168.0,1581.7L1159.4,1581.7L1162.4,1557.7L1148.2,1533.7L1144.0,1530.2L1120.0,1517.9L1096.0,1512.8L1072.0,1511.9L1048.0,1514.4L1024.0,1519.6L1000.0,1526.2L976.0,1533.2L974.6,1533.7L952.0,1547.4L938.5,1557.7L928.0,1576.9L919.7,1581.7L904.0,1581.7L880.0,1581.7L875.1,1581.7L880.0,1580.0L904.0,1571.3L920.6,1557.7L928.0,1551.4L951.7,1533.7L952.0,1533.6L976.0,1525.6L1000.0,1519.2L1024.0,1513.2L1041.3,1509.7ZM1624.0,1575.4L1648.0,1565.7L1672.0,1558.2L1672.0,1564.1L1648.0,1572.7L1628.0,1581.7L1624.0,1581.7L1612.5,1581.7Z"/>
<path fill="#ffff69" stroke="#ffff69" stroke-width="0.6" fill-rule="evenodd" d="M904.0,152.4L918.3,142.0L928.0,142.0L952.0,142.0L965.6,142.0L976.0,164.9L976.2,166.0L976.3,190.0L976.0,192.4L971.8,214.0L962.4,238.0L952.0,253.4L939.3,262.0L928.0,267.9L904.0,274.3L880.0,280.9L869.6,286.0L856.0,295.1L841.6,310.0L832.0,319.9L811.2,334.0L808.0,335.7L784.0,340.1L767.0,334.0L780.9,310.0L784.0,307.2L803.4,286.0L808.0,282.6L832.0,262.0L832.0,262.0L852.4,238.0L856.0,232.4L864.9,214.0L875.6,190.0L880.0,182.0L890.2,166.0ZM900.7,166.0L886.0,190.0L880.0,204.4L876.1,214.0L870.1,238.0L880.0,261.5L904.0,260.5L928.0,253.7L950.0,238.0L952.0,236.0L962.3,214.0L967.5,190.0L966.5,166.0L952.0,142.0L928.0,145.7L904.0,162.7ZM1576.0,142.0L1589.3,142.0L1600.0,163.9L1601.2,166.0L1600.2,190.0L1600.0,190.6L1595.8,214.0L1591.7,238.0L1593.0,262.0L1600.0,273.7L1624.0,284.7L1648.0,271.9L1653.7,262.0L1662.6,238.0L1669.2,214.0L1672.0,199.6L1672.0,214.0L1672.0,238.0L1672.0,239.1L1662.8,262.0L1649.1,286.0L1648.0,287.4L1624.0,297.5L1600.0,293.6L1590.0,286.0L1578.0,262.0L1579.1,238.0L1584.1,214.0L1588.4,190.0L1587.7,166.0L1576.0,147.0L1573.5,142.0ZM1336.0,259.7L1341.4,262.0L1339.4,286.0L1336.0,286.8L1332.3,286.0L1312.1,262.0ZM1000.0,388.7L1024.0,382.7L1044.4,405.9L1046.7,429.9L1031.6,453.9L1024.0,459.8L1000.0,460.4L991.6,453.9L981.5,429.9L988.1,405.9ZM1010.6,429.9L1024.0,431.6L1025.1,429.9L1024.0,425.8ZM736.0,591.5L760.0,594.9L773.9,597.9L784.0,607.2L791.8,621.9L784.0,630.5L771.3,645.9L760.0,652.4L736.0,662.7L712.0,665.9L712.0,647.2L719.3,645.9L736.0,636.4L748.5,621.9L736.0,614.8L712.0,607.2L712.0,597.9L712.0,588.2ZM1672.0,1261.4L1672.0,1267.1L1665.5,1269.8L1648.0,1281.4L1629.4,1293.8L1627.6,1317.8L1648.0,1334.9L1670.6,1341.8L1672.0,1342.0L1672.0,1347.9L1648.0,1344.3L1641.3,1341.8L1624.0,1327.6L1615.6,1317.8L1615.7,1293.8L1624.0,1287.2L1648.0,1271.9L1651.2,1269.8ZM976.0,1533.2L1000.0,1526.2L1024.0,1519.6L1048.0,1514.4L1072.0,1511.9L1096.0,1512.8L1120.0,1517.9L1144.0,1530.2L1148.2,1533.7L1162.4,1557.7L1159.4,1581.7L1146.9,1581.7L1154.0,1557.7L1144.0,1541.2L1137.8,1533.7L1120.0,1524.1L1096.0,1518.4L1072.0,1517.4L1048.0,1520.2L1024.0,1526.0L1000.0,1533.3L998.5,1533.7L976.0,1546.6L957.9,1557.7L976.0,1581.1L976.8,1581.7L976.0,1581.7L952.0,1581.7L928.0,1581.7L919.7,1581.7L928.0,1576.9L938.5,1557.7L952.0,1547.4L974.6,1533.7ZM1648.0,1572.7L1672.0,1564.1L1672.0,1570.1L1648.0,1579.6L1643.3,1581.7L1628.0,1581.7Z"/>
<path fill="#ffff56" stroke="#ffff56" stroke-width="0.6" fill-rule="evenodd" d="M904.0,162.7L928.0,145.7L952.0,142.0L966.5,166.0L967.5,190.0L962.3,214.0L952.0,236.0L950.0,238.0L928.0,253.7L904.0,260.5L880.0,261.5L870.1,238.0L876.1,214.0L880.0,204.4L886.0,190.0L900.7,166.0ZM915.5,166.0L904.0,179.4L897.7,190.0L890.9,214.0L896.5,238.0L904.0,241.9L928.0,238.7L929.0,238.0L952.0,215.8L952.9,214.0L958.5,190.0L956.7,166.0L952.0,158.2L928.0,157.3ZM1600.0,142.0L1616.2,142.0L1621.2,166.0L1616.9,190.0L1611.1,214.0L1607.3,238.0L1616.3,262.0L1624.0,266.5L1633.5,262.0L1648.0,251.2L1652.6,238.0L1657.2,214.0L1658.6,190.0L1655.5,166.0L1648.0,144.2L1644.1,142.0L1648.0,142.0L1672.0,142.0L1672.0,166.0L1672.0,190.0L1672.0,199.6L1669.2,214.0L1662.6,238.0L1653.7,262.0L1648.0,271.9L1624.0,284.7L1600.0,273.7L1593.0,262.0L1591.7,238.0L1595.8,214.0L1600.0,190.6L1600.2,190.0L1601.2,166.0L1600.0,163.9L1589.3,142.0ZM1024.0,425.8L1025.1,429.9L1024.0,431.6L1010.6,429.9ZM736.0,614.8L748.5,621.9L736.0,636.4L719.3,645.9L712.0,647.2L712.0,645.9L712.0,621.9L712.0,607.2ZM1672.0,1267.1L1672.0,1269.8L1672.0,1275.3L1648.0,1290.9L1643.6,1293.8L1641.3,1317.8L1648.0,1323.4L1672.0,1332.5L1672.0,1341.8L1672.0,1342.0L1670.6,1341.8L1648.0,1334.9L1627.6,1317.8L1629.4,1293.8L1648.0,1281.4L1665.5,1269.8ZM1000.0,1533.3L1024.0,1526.0L1048.0,1520.2L1072.0,1517.4L1096.0,1518.4L1120.0,1524.1L1137.8,1533.7L1144.0,1541.2L1154.0,1557.7L1146.9,1581.7L1144.0,1581.7L1131.9,1581.7L1144.0,1562.5L1145.6,1557.7L1144.0,1555.0L1126.2,1533.7L1120.0,1530.3L1096.0,1524.1L1072.0,1522.9L1048.0,1526.1L1024.0,1532.5L1019.9,1533.7L1000.0,1546.4L980.3,1557.7L1000.0,1574.2L1009.9,1581.7L1000.0,1581.7L976.8,1581.7L976.0,1581.1L957.9,1557.7L976.0,1546.6L998.5,1533.7ZM1648.0,1579.6L1672.0,1570.1L1672.0,1576.1L1658.2,1581.7L1648.0,1581.7L1643.3,1581.7Z"/>
<path fill="#ffff42" stroke="#ffff42" stroke-width="0.6" fill-rule="evenodd" d="M928.0,157.3L952.0,158.2L956.7,166.0L958.5,190.0L952.9,214.0L952.0,215.8L929.0,238.0L928.0,238.7L904.0,241.9L896.5,238.0L890.9,214.0L897.7,190.0L904.0,179.4L915.5,166.0ZM915.8,190.0L917.9,214.0L928.0,217.3L931.4,214.0L943.3,190.0L928.0,174.3ZM1624.0,142.0L1644.1,142.0L1648.0,144.2L1655.5,166.0L1658.6,190.0L1657.2,214.0L1652.6,238.0L1648.0,251.2L1633.5,262.0L1624.0,266.5L1616.3,262.0L1607.3,238.0L1611.1,214.0L1616.9,190.0L1621.2,166.0L1616.2,142.0ZM1648.0,1290.9L1672.0,1275.3L1672.0,1285.4L1659.0,1293.8L1659.6,1317.8L1672.0,1323.0L1672.0,1332.5L1648.0,1323.4L1641.3,1317.8L1643.6,1293.8ZM1024.0,1532.5L1048.0,1526.1L1072.0,1522.9L1096.0,1524.1L1120.0,1530.3L1126.2,1533.7L1144.0,1555.0L1145.6,1557.7L1144.0,1562.5L1131.9,1581.7L1120.0,1581.7L1114.2,1581.7L1120.0,1578.2L1135.4,1557.7L1120.0,1539.5L1110.6,1533.7L1096.0,1529.7L1072.0,1528.5L1048.0,1531.9L1041.4,1533.7L1024.0,1544.1L1003.1,1557.7L1024.0,1574.4L1035.4,1581.7L1024.0,1581.7L1009.9,1581.7L1000.0,1574.2L980.3,1557.7L1000.0,1546.4L1019.9,1533.7ZM1672.0,1576.1L1672.0,1581.7L1658.2,1581.7Z"/>
<path fill="#ffff2e" stroke="#ffff2e" stroke-width="0.6" fill-rule="evenodd" d="M928.0,174.3L943.3,190.0L931.4,214.0L928.0,217.3L917.9,214.0L915.8,190.0ZM1672.0,1285.4L1672.0,1293.8L1672.0,1317.8L1672.0,1323.0L1659.6,1317.8L1659.0,1293.8ZM1048.0,1531.9L1072.0,1528.5L1096.0,1529.7L1110.6,1533.7L1120.0,1539.5L1135.4,1557.7L1120.0,1578.2L1114.2,1581.7L1096.0,1581.7L1076.9,1581.7L1096.0,1578.5L1120.0,1563.9L1124.7,1557.7L1120.0,1552.2L1096.0,1537.6L1072.0,1534.5L1048.0,1542.0L1024.0,1556.9L1022.8,1557.7L1024.0,1558.6L1048.0,1575.2L1069.4,1581.7L1048.0,1581.7L1035.4,1581.7L1024.0,1574.4L1003.1,1557.7L1024.0,1544.1L1041.4,1533.7Z"/>
<path fill="#ffff1b" stroke="#ffff1b" stroke-width="0.6" fill-rule="evenodd" d="M1024.0,1556.9L1048.0,1542.0L1072.0,1534.5L1096.0,1537.6L1120.0,1552.2L1124.7,1557.7L1120.0,1563.9L1096.0,1578.5L1076.9,1581.7L1072.0,1581.7L1069.4,1581.7L1048.0,1575.2L1024.0,1558.6L1022.8,1557.7ZM1042.0,1557.7L1048.0,1561.9L1072.0,1566.0L1096.0,1564.6L1107.3,1557.7L1096.0,1551.0L1072.0,1550.0L1048.0,1554.0Z"/>
<path fill="#ffff03" stroke="#ffff03" stroke-width="0.6" fill-rule="evenodd" d="M1048.0,1554.0L1072.0,1550.0L1096.0,1551.0L1107.3,1557.7L1096.0,1564.6L1072.0,1566.0L1048.0,1561.9L1042.0,1557.7Z"/>
<path fill="none" stroke="#808080" stroke-width="1.1" stroke-linejoin="round" d="M818.8,142.0 L806.7,190.1 L794.0,214.2 L754.1,264.6 M722.5,311.2 L713.5,334.5 L719.5,358.5 L722.5,382.0 M1672.0,211.2 L1662.1,226.2 L1653.8,239.7 L1646.3,262.3 L1660.6,266.8 L1672.0,269.5 M723.3,382.0 L720.3,406.1 L712.0,418.1 M1404.8,502.3 L1407.0,500.8 L1409.3,502.3 L1407.0,504.1 L1404.8,502.3 M1559.1,537.6 L1550.0,525.6 L1552.3,524.1 L1576.4,524.1 L1584.6,526.4 L1586.1,538.4 M1672.0,533.1 L1652.3,550.4 L1672.0,555.7 M1057.3,862.0 L1072.3,850.6 L1082.8,846.1 L1100.9,840.8 M1138.5,826.8 L1144.5,822.0 L1167.8,795.2 L1183.6,802.5 L1192.0,804.7 M1192.0,806.2 L1215.3,809.2 L1239.4,800.2 L1248.4,790.4 L1262.7,765.6 L1287.5,758.1 L1311.5,765.2 L1336.4,757.3 L1357.4,755.5 L1383.0,755.1 L1407.0,758.1 L1432.0,755.8 M1432.0,755.1 L1449.3,742.3 L1454.6,728.0 L1480.1,732.5 L1503.4,724.0 L1527.5,723.5 L1551.5,728.8 L1575.6,728.5 L1598.9,718.2 L1623.0,706.2 L1627.5,718.2 L1631.2,742.3 L1625.2,766.4 L1647.8,769.4 L1672.0,761.1 M1629.7,694.2 L1647.0,689.7 L1650.0,694.9 L1647.8,702.5 L1629.7,694.2 M931.5,1102.0 L925.5,1081.5 L921.0,1068.0 L917.3,1056.0 L918.8,1047.0 L921.8,1033.4 L925.5,1027.4 L933.1,1018.4 L942.1,1007.9 L952.0,998.8 M1057.3,862.0 L1028.7,886.8 L1013.7,910.1 L1009.1,934.2 L995.6,956.7 L980.6,970.3 L952.0,998.1 M1343.9,910.1 L1358.9,907.1 L1362.7,910.1 L1358.9,913.1 L1343.9,910.1 M931.5,1102.0 L924.0,1111.0 L916.5,1126.1 L915.0,1150.1 L911.2,1174.2 L903.7,1198.2 L901.8,1222.3 L903.0,1225.3 L918.8,1246.4 L924.8,1270.4 L923.3,1294.5 L925.5,1315.5 L927.8,1327.6 L952.0,1340.3 M952.0,1339.6 L975.3,1332.1 L998.6,1332.8 L1010.6,1342.0 M712.0,1561.5 L734.6,1555.5 L782.7,1536.7 L856.4,1501.4 L892.5,1486.4 L927.0,1469.8 L933.1,1462.3 L952.0,1448.8 M1010.6,1342.0 L1025.7,1364.6 L1025.7,1367.6 L1007.6,1389.4 L1000.1,1394.6 L973.1,1421.7 L965.5,1432.2 L952.0,1448.8 M1037.0,1390.1 L1047.5,1382.6 L1059.5,1390.1 L1047.5,1395.4 L1037.0,1390.1"/>
<path fill="none" stroke="#000" stroke-width="2.5" stroke-linejoin="round" stroke-linecap="round" d="M992.6,142.0 L993.4,148.0 L990.8,151.8 L985.1,150.3 L982.8,148.0 L983.9,145.8 L977.6,143.8 L967.0,147.3 L965.2,149.8 L974.6,151.8 L978.8,154.3 L981.3,160.3 L986.9,164.6 L997.1,166.1 L1007.9,164.6 L1020.0,158.5 L1027.2,156.3 L1034.0,156.6 L1030.2,161.1 L1019.7,166.8 L1012.2,172.1 L1006.4,178.1 L1003.9,180.3 L997.1,178.8 L992.6,179.9 L993.4,186.4 L991.8,192.4 L988.8,189.8 L986.9,193.9 L983.3,200.6 L1001.6,200.6 L1004.6,198.4 L1015.2,194.6 L1027.9,190.9 L1034.0,184.4 L1039.2,179.3 L1042.2,178.8 L1042.5,190.1 L1036.2,193.4 L1025.7,199.1 L1015.2,204.0 L1006.1,209.2 L998.6,215.2 L995.9,220.5 L989.3,223.2 L992.9,227.1 L994.1,230.0 L989.9,231.9 L978.3,232.5 L976.1,235.2 L976.8,247.3 L978.3,262.3 L979.8,277.3 L980.3,287.6 L983.6,288.9 L988.1,285.2 L992.9,282.2 L1000.4,279.6 L1006.9,275.8 L1010.2,270.1 L1014.0,268.3 L1020.0,266.2 L1029.7,262.3 L1034.3,256.3 L1038.0,251.8 L1042.5,249.7 L1054.3,249.1 L1060.6,246.5 L1068.1,242.8 L1077.1,240.8 L1108.4,237.0 L1119.2,231.6 L1126.7,230.0 L1134.3,227.7 L1139.2,225.5 L1147.5,220.9 L1152.0,203.4 L1135.5,207.0 L1129.4,203.7 L1124.9,198.8 L1124.9,191.9 L1127.6,186.8 L1120.7,182.6 L1115.9,176.3 L1115.2,170.6 L1111.7,164.9 L1109.1,158.2 L1109.9,143.8 L1117.4,144.3 L1121.9,143.2 M1008.8,274.0 L1001.6,280.3 L991.1,287.1 L982.8,295.4 L980.6,301.1 L982.5,307.4 L980.3,317.9 L980.3,325.5 L984.3,333.7 L991.4,336.7 L997.1,336.0 L1009.1,332.2 L1018.2,330.0 L1024.9,328.9 L1020.4,331.8 L1015.2,334.2 L1004.6,336.0 L994.1,338.2 L991.4,340.5 L992.6,349.5 L995.6,355.5 L997.1,364.6 L999.8,373.6 L1001.6,382.0 M995.9,354.3 L1001.6,354.0 L1009.1,351.8 L1019.7,349.2 L1034.7,348.8 L1038.9,346.2 L1048.2,348.8 L1058.8,351.0 L1063.3,346.5 L1062.5,342.8 L1066.3,337.5 L1067.8,329.2 L1070.8,325.8 L1076.8,325.8 L1084.3,322.5 L1091.8,320.2 L1102.4,319.1 L1115.9,318.2 L1124.9,314.9 L1143.0,307.4 L1149.0,307.4 L1170.0,308.2 L1179.1,306.7 L1186.6,301.4 L1192.0,296.1 M1138.5,225.5 L1142.2,232.2 L1142.2,245.8 L1146.0,247.6 L1156.5,245.0 L1165.5,248.0 L1168.5,253.3 L1165.5,259.3 L1156.5,263.8 L1147.5,269.8 L1137.3,282.6 L1136.2,290.9 L1141.2,295.4 L1147.5,296.9 L1149.3,302.2 L1148.2,307.4 M1179.8,307.4 L1176.1,314.9 L1171.5,327.0 L1167.8,332.2 L1163.3,336.0 L1171.5,335.2 L1181.3,333.7 L1186.6,335.2 L1192.0,337.5 M1226.6,142.0 L1241.6,148.0 L1250.6,153.7 L1259.7,154.3 L1271.7,160.0 L1283.0,165.8 L1292.8,164.6 L1306.3,167.6 L1318.3,163.1 L1330.3,157.8 L1334.1,155.5 L1343.9,161.5 L1354.4,160.0 L1367.9,163.8 L1372.5,169.1 L1382.7,184.4 L1395.0,159.3 L1398.0,156.3 L1406.3,152.5 L1413.8,142.8 M1192.0,295.4 L1198.0,294.2 L1204.8,294.6 L1208.5,284.9 L1214.3,283.1 L1216.1,296.1 L1223.6,296.1 L1228.1,291.6 L1237.1,290.6 L1252.2,287.1 L1258.2,286.1 L1271.7,292.4 L1286.0,292.4 L1282.2,302.9 L1290.5,304.7 L1303.3,300.6 L1307.8,294.6 L1316.8,297.6 L1321.3,302.9 L1325.1,308.9 L1336.4,299.9 L1348.4,299.1 L1364.9,295.4 L1375.5,291.6 L1381.8,287.9 L1383.7,283.4 L1382.7,272.1 L1386.0,269.1 L1395.8,265.0 L1405.5,269.1 L1414.6,275.1 L1419.1,276.6 L1432.0,271.3 M1381.8,287.9 L1381.8,299.9 L1383.3,310.4 L1389.0,317.9 L1389.0,324.7 L1383.0,329.2 L1378.5,336.0 L1374.0,346.5 L1370.2,357.0 L1370.2,366.1 L1374.7,375.1 L1370.2,377.3 L1364.2,378.8 L1361.9,382.0 M1192.0,336.7 L1194.7,339.0 L1193.2,351.8 M1192.0,355.5 L1204.0,358.5 L1214.6,360.8 L1223.6,358.5 L1228.8,354.8 L1236.4,363.1 L1228.1,372.1 L1222.1,378.1 L1217.6,381.1 L1216.8,382.0 M1432.0,238.2 L1426.6,242.8 L1424.8,246.5 L1429.6,249.5 L1432.0,249.5 M1432.0,143.5 L1438.8,143.2 M1454.6,142.0 L1472.6,145.8 L1476.4,151.0 L1475.6,158.5 L1469.6,163.8 L1480.1,170.6 L1490.6,175.8 L1494.4,180.3 L1494.0,190.1 L1489.1,196.1 L1483.9,202.2 L1479.4,205.2 L1477.9,209.7 L1471.8,208.9 L1464.3,209.7 L1456.1,213.4 L1447.0,220.2 L1442.5,229.2 L1439.5,232.2 L1435.0,234.5 L1432.0,237.5 M1483.9,202.2 L1492.2,205.9 L1504.2,211.2 L1514.7,210.0 L1523.7,212.7 L1537.3,212.4 L1546.3,214.9 L1553.8,217.9 L1567.3,214.2 L1589.9,214.2 L1595.9,211.9 L1603.4,218.7 L1609.4,220.9 L1621.5,227.0 L1660.6,224.0 L1672.0,228.5 M1432.0,249.5 L1435.8,250.3 L1439.5,254.8 L1436.5,260.8 L1434.7,266.8 L1435.8,270.6 L1444.0,275.1 L1451.5,276.6 L1466.6,275.1 L1471.8,272.8 L1473.4,266.1 L1480.1,266.8 L1489.9,277.3 L1496.7,278.8 L1514.7,277.6 L1521.5,275.8 L1525.2,271.0 L1532.8,274.3 L1535.0,280.3 L1533.5,290.9 L1540.3,293.1 L1545.5,293.9 L1542.5,301.4 L1538.0,317.9 L1534.3,324.7 L1535.8,330.0 L1537.3,338.2 L1541.8,344.3 L1548.5,345.8 L1556.8,342.0 L1561.3,339.7 L1576.4,342.0 L1594.4,346.5 L1606.4,352.5 L1622.2,365.3 L1614.0,373.6 L1604.9,382.0 M1432.0,270.6 L1435.8,270.6 M1001.6,382.0 L1003.1,386.5 L1005.4,389.5 L1003.1,394.0 L1002.4,398.5 L1003.1,407.6 L1006.1,413.6 L1009.9,420.3 L1012.9,422.6 L1013.4,431.6 L1015.2,439.1 L1014.4,442.2 L1018.2,448.2 L1022.7,457.2 L1026.4,464.0 L1030.9,465.5 L1036.2,466.2 L1032.5,470.0 L1030.9,473.7 L1031.4,481.2 L1033.2,490.3 L1034.4,498.5 L1034.7,502.3 L1033.2,509.8 L1028.7,529.4 L1022.7,553.4 L1018.2,570.0 L1012.9,588.0 L1009.9,598.5 L1008.4,603.1 L1003.9,613.6 L1001.6,622.0 M1005.4,389.5 L1012.2,391.0 L1022.7,394.8 L1030.2,395.5 L1036.2,400.0 L1040.7,403.1 L1046.7,404.6 L1048.2,406.8 L1043.0,409.1 L1042.2,414.3 L1046.0,418.8 L1054.3,418.1 L1064.8,417.8 L1072.3,414.3 L1079.8,412.1 L1087.3,414.3 L1091.8,414.8 L1109.9,411.8 L1115.2,413.9 L1124.9,410.6 L1132.5,407.6 L1138.5,403.1 L1146.0,404.6 L1152.8,406.8 L1156.5,410.6 L1157.3,413.6 L1165.5,418.1 L1174.6,420.3 L1183.6,424.4 L1188.1,423.4 L1192.0,420.3 M1034.4,498.5 L1039.2,497.8 L1046.7,497.0 L1051.2,499.0 L1058.8,496.3 L1063.3,494.0 L1072.3,498.5 L1076.1,497.8 L1079.8,491.8 L1084.3,489.1 L1090.3,494.8 L1097.1,499.6 L1098.6,496.3 L1097.1,493.3 L1102.4,491.0 L1108.4,491.5 L1114.4,488.0 L1121.9,484.3 L1123.4,482.0 L1132.5,479.0 L1146.0,476.0 L1170.0,477.0 L1179.1,475.2 L1192.0,472.2 M1121.9,482.8 L1132.5,487.3 L1137.3,490.3 L1138.5,499.3 L1141.5,502.3 L1152.0,506.1 L1158.8,506.1 L1162.5,503.1 L1165.5,500.0 L1170.0,500.0 L1170.8,502.3 L1165.5,507.6 L1161.0,513.6 L1160.3,518.1 L1162.5,526.4 L1164.0,530.9 L1164.8,536.9 L1161.8,538.4 L1155.0,536.1 L1149.7,535.4 L1144.5,536.9 L1138.5,536.1 L1131.7,536.9 L1134.0,544.4 L1129.4,551.9 L1124.9,557.9 L1118.9,562.5 L1114.4,566.2 L1113.7,571.5 L1117.4,576.7 L1120.4,580.5 L1121.2,586.5 L1122.7,590.3 L1131.7,593.3 L1120.4,597.0 L1118.9,601.5 L1121.9,610.6 L1126.4,615.1 L1130.9,620.3 L1127.9,622.0 M1011.4,585.0 L1018.2,577.5 L1021.9,568.5 L1024.2,554.9 L1027.2,547.4 L1030.2,544.4 L1033.2,545.9 L1034.4,539.9 L1037.0,544.4 L1034.0,547.4 L1027.9,553.4 L1027.9,558.7 L1031.7,564.0 L1037.7,565.5 L1045.2,563.2 L1054.3,560.9 L1049.7,564.0 L1042.2,567.0 L1034.0,568.5 L1031.7,571.5 L1034.0,574.5 L1037.7,576.7 L1034.0,581.2 L1028.7,583.5 L1025.7,581.2 L1025.7,587.3 L1022.7,585.8 L1018.2,588.0 L1012.2,594.0 L1011.4,585.0 M1001.6,617.3 L1009.9,622.0 M1217.6,382.0 L1214.6,384.3 L1210.8,385.0 L1207.0,388.0 L1205.5,393.3 L1206.3,396.3 L1202.5,401.5 L1198.8,406.1 L1199.5,409.8 L1197.3,414.3 L1193.5,419.6 M1361.9,382.0 L1357.4,388.0 L1345.4,394.8 L1343.1,397.0 L1343.9,407.6 L1346.9,415.1 L1355.2,420.3 L1348.4,421.8 L1343.1,426.4 L1342.4,430.9 L1338.6,433.9 L1336.4,439.1 L1336.7,443.4 L1331.8,444.4 L1328.8,448.2 L1328.1,450.4 M1197.3,414.3 L1200.3,417.3 L1201.0,421.8 L1204.0,424.1 L1212.3,428.6 L1211.8,433.9 L1214.6,439.1 L1221.3,442.9 L1218.3,451.2 L1216.8,463.2 M1192.0,472.2 L1205.5,468.5 L1216.8,463.2 L1231.1,457.2 L1235.6,457.9 L1241.6,461.7 L1247.6,465.5 L1255.2,465.5 L1262.7,463.2 L1273.2,458.7 L1288.2,459.4 L1298.8,457.9 L1327.3,450.4 L1331.8,451.2 L1337.9,457.2 L1343.9,462.5 L1351.4,464.7 L1358.9,464.7 L1378.5,463.2 L1387.5,464.7 L1392.0,462.5 L1404.0,456.4 L1401.0,463.2 L1408.5,467.0 L1408.5,473.7 L1413.1,480.5 L1432.0,488.0 M1358.9,464.7 L1353.7,479.7 L1350.6,488.8 L1350.6,497.0 L1348.4,499.3 L1342.4,499.3 L1342.4,502.3 L1343.9,504.6 L1349.9,506.8 L1351.4,511.3 L1349.9,516.6 L1342.4,522.6 L1330.3,521.1 L1330.3,526.4 L1332.6,532.4 L1327.3,540.6 L1323.6,545.9 L1319.8,545.2 L1309.3,536.1 L1303.3,533.1 L1295.8,533.9 L1291.2,536.9 L1288.2,544.4 L1283.7,549.7 L1283.0,552.7 L1286.7,556.4 L1292.0,559.4 L1292.8,564.0 L1290.5,567.7 L1294.3,571.5 L1300.3,576.0 L1301.8,578.2 L1301.0,582.8 L1297.3,586.5 L1295.0,592.5 L1292.5,598.5 L1292.0,604.6 L1282.2,606.1 L1270.2,608.3 L1255.2,613.6 L1244.6,619.6 L1233.4,622.0 M1604.9,382.0 L1602.7,385.0 L1603.4,390.3 L1598.9,395.5 L1594.4,403.1 L1583.9,404.6 L1580.1,406.8 L1580.9,411.3 L1575.6,411.3 L1568.8,419.6 L1562.8,424.9 L1556.8,429.4 L1549.3,433.1 L1536.5,437.6 L1516.2,437.9 L1502.7,451.2 L1490.6,464.0 L1489.1,466.2 L1489.9,472.2 L1486.9,478.2 L1475.6,489.1 L1468.1,489.5 L1453.8,488.8 L1448.5,490.0 L1446.3,496.3 L1444.8,500.0 L1446.3,503.1 L1454.6,509.8 L1459.1,514.3 L1462.8,521.8 L1466.6,530.9 L1472.6,532.4 L1475.6,535.4 L1475.6,538.4 L1471.1,539.9 L1469.6,544.4 L1470.3,551.9 L1469.6,562.5 L1472.6,573.0 L1475.6,582.0 L1476.4,588.0 L1474.1,592.5 L1469.6,598.5 L1466.9,603.1 L1467.3,607.6 L1471.1,612.1 L1474.9,616.6 L1476.4,622.0 M1432.0,489.1 L1448.5,490.0 M1556.8,429.4 L1594.4,435.4 L1640.3,455.4 L1645.5,451.2 L1657.6,451.9 L1663.6,453.4 L1665.8,456.4 L1665.1,461.7 L1668.8,465.5 L1672.0,467.0 M952.0,781.4 L943.6,797.9 L934.6,817.5 L933.1,828.0 L930.0,834.0 L930.8,841.5 L928.5,844.6 L919.5,856.6 L912.0,861.1 L910.5,862.0 M1001.6,622.0 L998.6,634.0 L992.6,652.1 L988.1,665.6 L983.6,675.4 L978.3,682.9 L974.6,689.7 L973.1,695.7 L974.6,701.7 L979.8,704.7 L991.1,706.2 L998.6,709.2 L1003.1,712.2 L1002.4,714.0 L993.4,713.4 L988.8,711.9 L986.6,708.9 L982.8,711.9 L979.1,719.7 L975.3,728.8 L971.5,737.8 L964.0,754.3 L956.5,772.4 L952.0,782.9 M1007.6,622.0 L1018.2,630.3 L1029.4,637.8 L1037.4,638.5 L1040.0,632.5 L1045.2,625.8 L1054.3,630.3 L1053.1,635.5 L1054.3,643.1 L1057.3,645.3 L1064.8,642.3 L1070.8,640.8 L1072.3,646.8 L1075.3,651.3 L1073.8,655.8 L1070.0,658.8 L1066.3,664.1 L1065.5,670.1 L1067.8,672.4 L1075.3,673.1 L1082.1,673.9 L1085.8,670.1 L1094.9,660.3 L1098.6,658.8 L1103.9,658.8 L1106.1,655.1 L1106.9,652.8 L1106.1,646.1 L1113.7,637.0 L1113.7,631.8 L1111.4,628.0 L1112.9,625.0 L1117.4,623.2 L1123.4,622.0 M1106.9,653.6 L1117.4,656.6 L1124.9,659.6 L1135.5,665.6 L1138.5,661.1 L1146.0,659.6 L1155.0,660.3 L1164.0,661.1 L1177.6,654.3 L1183.6,651.3 L1192.0,648.3 M975.3,731.8 L982.1,734.0 L988.1,737.0 L997.1,737.0 L1001.6,734.8 L1007.6,733.3 L1024.2,734.0 L1030.2,736.3 L1035.5,740.0 L1039.2,743.1 L1043.0,743.1 L1047.5,738.5 L1051.2,735.5 L1057.3,736.3 L1059.5,740.8 L1061.0,750.6 L1062.5,752.8 L1067.8,748.3 L1076.8,743.1 L1082.8,739.3 L1089.6,738.5 L1094.9,745.3 L1098.6,752.8 L1097.9,756.6 L1094.1,758.1 L1096.4,759.1 L1106.9,755.8 L1117.4,747.6 L1124.9,748.3 L1126.4,746.1 L1121.9,740.8 L1123.4,734.8 L1129.4,730.3 L1135.5,727.3 L1142.2,729.1 L1149.7,721.5 L1155.0,725.8 L1155.8,733.3 L1158.0,739.3 L1165.5,750.6 L1161.8,752.8 L1161.0,757.3 L1162.5,758.8 M1161.8,758.8 L1167.0,755.8 L1177.6,751.3 L1184.3,750.1 L1186.6,747.6 L1192.0,746.5 M1161.8,758.8 L1158.0,764.9 L1155.0,769.4 L1149.0,772.4 L1143.0,776.1 L1138.5,777.6 L1129.4,780.6 L1126.4,782.9 L1125.7,785.9 L1123.4,788.9 L1124.2,793.4 L1127.2,796.4 L1133.2,797.9 L1136.2,802.5 L1137.0,810.0 L1136.2,816.0 L1137.0,823.5 L1138.5,826.5 L1147.5,829.5 L1156.5,834.0 L1167.0,834.0 L1176.8,832.5 L1174.6,826.5 L1175.3,822.0 L1177.6,817.5 L1179.1,810.0 L1181.3,804.0 L1184.3,803.2 L1192.0,804.7 M1123.4,791.9 L1113.7,790.4 L1112.2,793.4 L1113.7,797.9 L1107.6,798.7 L1094.9,801.7 L1085.1,804.7 L1078.3,781.4 L1072.3,782.9 L1066.3,784.4 L1061.8,786.7 L1051.2,792.7 L1042.2,793.4 L1034.7,794.9 L1030.2,797.9 L1029.0,802.5 L1029.4,810.0 L1031.7,813.0 L1035.5,816.0 L1036.2,820.5 L1033.2,823.5 L1024.9,828.0 L1025.7,832.5 L1027.2,840.0 L1029.4,846.8 L1022.7,853.6 L1018.2,855.8 L1014.4,855.1 L1012.9,857.3 L1013.7,862.0 M1192.0,647.6 L1208.5,639.3 L1215.3,632.5 L1226.6,625.0 L1233.4,622.8 L1237.1,628.8 L1239.4,632.5 L1237.9,635.5 L1232.6,637.8 L1230.3,640.8 L1232.6,643.8 L1239.4,645.3 L1240.1,650.6 L1241.6,657.3 L1246.9,661.8 L1241.6,664.9 L1237.1,669.4 L1234.9,675.4 L1233.4,679.1 L1239.4,682.2 L1243.1,685.9 L1238.6,695.7 L1237.9,699.4 L1241.6,704.7 L1248.4,709.2 L1253.7,712.2 L1255.2,718.2 L1252.2,722.0 L1245.4,724.3 L1241.6,722.0 L1238.6,722.8 L1237.1,732.5 L1230.3,728.8 L1223.6,728.0 L1215.3,731.8 L1213.1,735.5 L1213.8,739.3 L1208.5,740.8 L1203.3,741.5 L1198.8,746.1 L1192.0,746.1 M1243.1,685.9 L1253.7,682.9 L1264.2,678.4 L1276.2,673.1 L1283.0,668.6 L1286.7,664.1 L1294.3,665.6 L1301.8,664.1 L1307.8,657.3 L1312.3,651.3 L1322.8,643.1 L1327.3,646.1 L1336.4,650.6 L1346.9,649.1 L1352.9,644.3 L1360.4,643.1 L1366.4,644.3 L1364.9,656.6 L1361.9,663.4 L1355.2,670.1 L1354.4,673.9 L1360.4,676.9 L1372.5,678.4 L1384.5,675.4 L1397.3,674.6 L1400.3,670.1 L1404.8,665.9 L1408.5,668.6 L1413.1,673.1 L1420.6,674.6 L1432.0,673.1 M1432.0,686.7 L1426.6,689.7 L1422.1,698.7 L1424.3,704.0 L1424.8,710.7 L1428.1,713.7 L1432.0,715.2 M1192.0,805.5 L1199.5,805.5 L1202.5,808.5 L1203.3,821.2 L1210.0,823.5 L1216.1,825.0 L1225.1,831.0 L1232.6,840.0 L1237.1,849.1 M1192.0,862.0 L1198.0,854.3 L1206.3,849.8 L1214.6,852.8 L1225.1,858.1 L1232.6,851.3 L1237.1,849.1 L1243.9,842.3 L1252.2,837.0 L1258.2,828.0 L1264.2,825.8 L1270.2,826.5 L1277.7,828.0 L1288.2,821.2 L1295.8,819.0 L1349.9,821.2 L1360.4,818.2 L1374.0,817.5 L1380.0,819.7 L1390.5,819.7 L1420.6,816.7 L1426.6,814.5 L1428.8,809.2 L1428.1,802.5 L1432.0,797.9 M1297.3,819.7 L1302.5,831.8 L1307.0,840.0 L1312.3,843.8 L1321.3,852.1 L1330.3,856.6 L1334.1,862.0 M1476.4,622.0 L1469.6,628.8 L1465.8,636.3 L1466.6,644.6 L1471.8,651.3 L1480.9,657.3 L1475.6,663.4 L1463.6,670.1 L1461.3,673.9 L1462.1,676.9 L1457.6,679.9 L1445.5,680.6 L1438.0,683.7 L1432.0,686.7 M1432.0,673.9 L1438.0,676.1 L1444.0,679.9 M1462.1,676.9 L1469.6,682.9 L1475.6,683.7 L1481.6,682.5 L1489.1,683.4 L1498.2,679.9 L1505.7,682.5 L1514.7,679.1 L1531.2,676.9 L1537.3,673.1 L1538.0,665.6 L1540.3,661.8 L1549.3,656.6 L1564.3,652.1 L1571.8,646.8 L1583.1,644.6 L1586.9,638.5 L1594.4,634.8 L1602.7,633.3 L1614.7,627.3 L1621.5,627.7 L1632.0,633.3 L1638.0,637.0 L1643.3,638.2 L1644.0,641.2 L1653.1,645.3 L1650.0,653.6 L1648.5,657.3 L1654.6,659.6 L1663.6,662.6 L1672.0,667.9 M1432.0,714.5 L1439.5,716.0 L1444.0,721.2 L1451.5,728.0 L1456.1,734.8 L1460.6,740.0 L1456.1,746.1 L1455.3,752.8 L1453.8,758.8 L1450.0,761.1 L1449.3,764.9 L1450.0,773.9 L1443.3,781.4 L1436.5,783.7 L1433.5,785.9 L1432.8,796.4 M910.5,862.0 L907.5,864.3 L900.7,870.3 L896.2,875.5 L895.5,877.0 L900.0,880.8 L901.8,883.1 L898.5,884.9 L894.7,883.8 L892.5,881.5 L888.7,881.5 L866.9,893.6 L862.4,892.8 L853.4,891.3 L852.6,892.8 L857.9,897.3 L863.9,901.8 L866.9,907.1 L869.1,911.6 L869.9,919.1 L868.4,925.2 L867.6,934.2 L859.4,950.7 L850.3,962.8 L848.1,974.8 L846.6,975.5 L848.8,985.3 L849.6,998.1 L842.8,1016.9 L835.3,1022.2 L832.3,1025.9 L831.5,1031.9 L833.8,1042.5 L835.3,1044.0 L833.1,1047.7 L833.1,1053.0 L838.3,1053.7 L848.8,1052.2 L854.9,1053.7 L866.9,1058.2 L874.4,1062.0 L883.4,1054.5 L898.5,1055.2 L912.0,1053.7 L924.0,1050.7 L927.8,1046.2 L927.0,1028.9 L926.3,1026.7 L934.6,1018.4 L937.6,1013.9 L944.3,1003.4 L952.0,992.1 M869.1,911.6 L878.9,911.6 L891.7,905.9 L897.0,906.8 L901.5,913.1 L906.0,925.2 L910.5,929.4 L919.5,922.2 L930.0,910.1 L937.6,907.4 L943.6,908.6 L952.0,910.1 M952.0,893.6 L950.3,898.8 M933.1,1025.2 L940.6,1017.6 L942.8,1013.9 L940.6,1013.1 L936.1,1016.9 L933.1,1022.2 L933.1,1025.2 M890.9,1062.0 L915.0,1059.0 L919.5,1059.0 L924.0,1063.5 L925.5,1064.3 L924.0,1059.0 L930.0,1057.5 L939.1,1055.7 L943.6,1050.7 L952.0,1044.7 M890.9,1062.0 L892.5,1068.0 L898.5,1075.5 L903.0,1081.5 L907.5,1089.8 L907.5,1102.0 M1013.7,862.0 L1012.2,865.0 L1007.6,866.5 L995.6,865.8 L984.3,866.5 L976.1,868.8 L972.3,872.5 L967.0,881.5 L962.5,886.8 L958.0,887.9 L953.5,892.1 L952.8,899.6 L953.5,910.1 L955.8,915.4 L955.0,919.1 L964.0,921.4 L971.5,923.7 L981.3,921.4 L985.1,925.2 L995.6,934.2 L991.8,936.4 L983.6,937.2 L976.8,937.9 L974.6,940.2 L979.8,944.7 L982.1,948.5 L988.1,953.0 L995.6,956.0 L999.4,959.0 L1000.1,962.0 M952.0,991.3 L959.5,982.3 L967.0,973.3 L970.0,970.3 L982.1,968.8 L989.6,968.0 L1001.6,962.8 L1008.4,958.7 L1003.9,965.0 L997.1,969.5 L991.1,970.3 L986.6,972.5 M952.0,986.8 L958.0,980.8 L965.5,974.0 L971.5,971.8 L980.6,971.0 L989.6,971.8 L994.1,973.3 L1001.6,967.3 L1008.4,959.0 M986.6,974.0 L990.3,978.5 L983.6,988.3 L979.1,994.3 L974.6,1003.4 L970.0,1012.4 L965.5,1016.9 L961.0,1020.6 L959.5,1017.6 L955.0,1018.4 L952.8,1016.9 M960.3,1019.9 L959.5,1025.9 L963.3,1030.4 L967.0,1034.9 M952.0,1044.7 L958.0,1040.9 L967.0,1036.1 M967.0,1034.9 L970.0,1040.9 L973.8,1044.7 L980.6,1043.2 L988.1,1040.9 L992.6,1041.7 L997.1,1044.7 L1004.6,1046.2 L1009.9,1044.0 L1013.7,1037.9 L1018.2,1028.9 L1023.4,1021.7 L1030.2,1024.4 L1037.0,1025.9 L1046.7,1023.7 L1046.0,1028.9 L1046.7,1034.9 L1051.2,1037.2 L1060.3,1037.2 L1070.8,1039.4 L1072.3,1042.5 L1070.0,1048.5 L1069.3,1051.5 L1063.3,1056.7 L1054.3,1061.2 L1045.2,1066.5 L1040.7,1070.3 L1035.5,1075.5 L1034.7,1078.5 L1036.2,1084.6 L1038.5,1089.8 L1045.2,1091.3 L1055.8,1095.8 L1067.8,1096.6 L1069.3,1092.1 L1072.3,1092.8 L1078.3,1096.6 L1085.8,1097.3 L1094.9,1094.3 L1100.9,1092.8 L1108.4,1098.1 L1112.9,1102.0 M1060.3,1037.2 L1070.8,1030.4 L1082.8,1028.2 L1090.3,1022.9 L1098.6,1022.2 L1102.4,1016.9 L1109.9,1019.1 L1117.4,1017.6 L1120.4,1015.4 L1130.9,1022.9 L1141.5,1025.2 L1146.0,1028.9 L1149.0,1030.4 L1155.0,1036.4 L1160.3,1031.2 L1160.3,1027.4 L1155.0,1024.4 L1150.5,1021.4 L1149.0,1012.4 L1141.5,1010.9 L1132.5,1007.1 L1129.4,1003.4 L1133.2,998.1 L1134.7,986.8 L1140.7,985.3 L1144.5,982.3 L1140.0,980.8 L1132.5,979.3 L1129.4,976.3 L1126.4,970.3 L1121.9,962.8 L1111.4,958.2 L1111.4,953.7 L1118.9,945.5 L1135.5,935.7 L1152.0,922.9 L1158.0,915.4 L1162.5,913.9 L1170.0,913.9 L1174.6,910.1 L1183.6,901.1 L1185.8,895.8 L1192.0,892.8 M1143.0,982.3 L1150.5,977.8 L1159.5,976.3 L1165.5,977.0 L1166.3,986.8 L1168.5,987.6 L1170.8,982.3 L1177.6,980.8 L1182.1,983.1 L1186.6,988.3 L1188.1,995.8 L1192.0,995.8 M1192.0,864.3 L1189.6,866.5 L1192.0,871.0 M961.0,1102.0 L974.6,1098.8 L985.1,1102.0 M995.6,1096.6 L1000.1,1095.8 L1004.6,1087.6 L1009.9,1086.8 L1008.4,1092.1 L1013.7,1098.1 L1012.2,1102.0 M1192.0,872.5 L1198.0,877.0 L1203.3,881.5 L1198.8,887.6 L1192.0,892.1 M1334.1,862.8 L1340.9,866.5 L1354.4,870.3 L1356.7,875.5 L1354.4,884.6 L1351.4,892.1 L1352.2,899.6 L1355.9,904.1 L1361.9,907.9 L1370.9,916.9 L1382.2,918.4 L1393.5,906.4 L1390.5,901.1 L1392.8,895.1 L1402.5,891.3 L1408.5,889.8 L1413.1,890.6 L1412.3,898.1 L1413.8,905.6 L1418.3,907.1 L1421.3,904.9 L1425.8,889.1 L1423.6,886.1 L1416.1,882.3 L1419.8,877.0 L1432.0,880.8 M1370.9,916.9 L1367.2,922.2 L1367.9,929.7 L1374.0,936.4 L1384.5,939.4 L1392.0,943.2 L1393.5,949.2 L1390.5,953.7 L1393.5,958.2 L1401.0,959.0 L1407.0,956.7 L1414.6,955.2 L1420.6,956.0 L1426.6,959.0 L1432.0,962.0 M1192.0,995.8 L1198.0,992.8 L1204.0,989.8 L1210.0,989.5 L1219.1,997.3 L1225.1,1003.4 L1232.6,1006.4 L1241.6,1006.4 L1249.1,1004.1 L1256.7,998.8 L1262.7,1001.1 L1267.2,1000.3 L1277.7,1001.8 L1282.2,998.1 L1288.2,994.3 L1300.3,991.3 L1302.5,986.8 L1300.0,984.6 L1303.3,982.3 L1306.3,984.6 L1316.8,988.3 L1321.3,994.3 L1322.8,1001.1 L1328.1,1004.9 L1330.3,1012.4 L1333.4,1016.9 L1332.6,1019.9 L1336.4,1025.9 L1340.9,1028.9 L1349.9,1029.7 L1357.4,1024.4 L1366.4,1020.6 L1374.0,1020.6 L1379.2,1023.7 L1379.2,1028.9 L1376.2,1033.4 L1375.5,1037.9 L1377.0,1039.4 M1377.0,1037.9 L1384.5,1034.9 L1390.5,1030.4 L1394.3,1025.9 L1405.5,1023.7 L1410.8,1021.4 L1417.6,1016.9 L1418.3,1010.9 L1416.1,1005.6 L1422.1,1001.8 L1428.1,994.3 L1432.0,988.3 M1377.0,1038.7 L1366.4,1044.7 L1363.4,1049.2 L1361.9,1056.0 L1361.2,1069.5 L1364.9,1073.3 L1365.7,1075.5 L1361.9,1080.0 L1355.2,1087.6 L1352.9,1093.6 L1350.6,1102.0 M1432.0,881.5 L1447.0,886.8 L1458.3,890.6 L1462.1,890.9 L1471.1,889.1 L1476.4,889.8 L1480.1,892.8 L1483.9,899.6 L1488.4,902.6 L1490.6,909.4 L1489.1,914.6 L1484.6,919.1 L1479.4,925.2 L1483.1,932.7 L1486.9,936.4 L1507.9,939.9 L1513.2,934.5 L1531.2,938.7 L1534.3,944.0 L1538.8,945.5 L1544.8,940.2 L1582.4,943.2 L1594.4,937.9 L1595.9,952.2 L1601.2,958.2 L1612.5,959.0 L1617.0,962.0 L1622.2,967.6 L1631.2,968.0 L1637.3,974.8 L1650.0,962.0 L1666.6,951.9 L1668.8,965.8 L1672.0,967.3 M1432.0,962.0 L1435.8,966.5 L1437.3,970.3 L1435.8,974.0 L1438.0,977.8 L1435.8,982.3 L1432.0,986.8 M907.5,1102.0 L906.0,1108.8 L900.0,1113.3 L895.5,1117.8 L895.5,1121.5 L903.0,1123.8 L909.0,1121.5 L915.0,1118.5 L925.5,1117.0 L939.1,1116.3 L946.6,1114.0 L952.0,1111.8 M952.0,1111.8 L956.5,1107.3 L962.5,1102.8 M964.8,1105.8 L968.5,1103.8 L973.8,1105.0 L984.3,1111.0 L997.1,1114.8 L1000.1,1117.0 L1000.1,1120.0 L1009.1,1119.3 L1033.2,1124.6 L1046.0,1121.5 L1037.7,1120.8 L1028.7,1119.3 L1015.2,1114.0 L1011.4,1109.5 L1011.4,1102.0 M980.6,1102.0 L989.6,1105.0 L1001.6,1106.5 L1003.9,1104.3 L1003.9,1102.0 M964.8,1105.8 L970.0,1108.8 L979.1,1114.0 L986.6,1120.0 L994.9,1126.8 L1000.9,1136.6 L1003.1,1150.1 L1005.4,1177.2 L1000.9,1189.2 L997.9,1198.2 L995.6,1207.3 L991.1,1214.8 L986.6,1222.3 L983.6,1228.3 L976.8,1232.8 L979.1,1235.1 L988.1,1238.8 L993.4,1239.6 L997.1,1243.4 L999.4,1249.4 L1000.1,1259.9 L999.4,1265.9 L997.1,1277.9 L995.6,1284.0 L997.1,1288.5 L1004.6,1288.5 L1010.6,1286.2 L1009.9,1292.2 L1001.6,1293.7 L998.6,1296.0 L995.6,1309.5 L993.4,1318.5 L995.6,1323.1 L998.6,1327.6 L1000.1,1333.6 L1000.1,1342.0 M1110.6,1102.0 L1112.9,1108.0 L1115.2,1113.3 L1115.9,1115.5 L1121.2,1119.3 L1121.9,1123.1 L1117.4,1129.8 L1117.4,1132.1 L1123.4,1134.3 L1134.0,1138.8 L1140.0,1139.6 L1146.0,1141.8 L1152.0,1145.6 L1176.1,1143.4 L1180.6,1144.9 L1185.8,1148.6 L1192.0,1148.9 M1152.0,1145.6 L1157.3,1154.6 L1160.3,1162.2 L1159.5,1168.2 L1147.5,1171.2 L1137.0,1174.2 L1134.0,1178.7 L1124.9,1179.4 L1121.9,1181.7 L1119.7,1187.7 L1112.9,1186.2 L1108.4,1188.5 L1105.4,1196.0 L1100.1,1196.0 L1096.4,1198.2 L1094.9,1205.8 L1097.9,1209.5 L1105.4,1215.5 L1112.9,1217.0 L1118.9,1220.8 L1121.2,1226.8 L1121.2,1235.8 L1118.9,1244.9 L1112.9,1258.4 L1105.4,1256.1 L1087.3,1254.6 L1066.3,1256.9 L1060.3,1259.9 L1058.8,1262.9 L1052.8,1268.2 L1050.5,1274.9 L1048.2,1279.4 L1043.7,1280.9 L1036.2,1278.7 L1031.7,1277.2 L1027.9,1280.9 L1022.7,1274.9 L1015.2,1267.4 L1012.2,1265.9 L1006.1,1267.4 L1003.1,1267.4 L999.4,1263.7 M1192.0,1148.9 L1196.5,1147.1 L1201.0,1147.9 L1207.0,1149.8 L1213.8,1154.9 L1232.6,1161.8 L1246.1,1163.4 L1252.2,1165.2 L1268.7,1171.9 L1285.2,1172.4 L1297.3,1175.2 L1309.3,1175.2 L1315.3,1167.4 L1319.8,1164.4 L1328.8,1160.6 L1333.4,1156.1 L1334.9,1150.4 L1342.4,1148.6 L1351.4,1145.3 L1363.4,1142.6 L1366.4,1147.1 L1369.4,1150.9 L1370.2,1155.4 L1375.5,1159.9 L1382.2,1162.9 L1384.5,1166.7 L1389.0,1175.7 L1393.5,1179.4 L1401.0,1179.4 M1350.6,1102.0 L1349.1,1104.3 L1351.4,1108.0 L1348.4,1113.3 L1345.4,1115.5 L1354.4,1120.0 L1361.9,1127.6 L1372.5,1138.1 L1380.0,1145.6 L1383.7,1151.6 L1390.5,1156.9 L1393.5,1162.2 L1399.5,1174.2 L1401.8,1177.9 L1407.0,1180.5 L1414.6,1179.4 L1420.6,1177.9 L1425.1,1174.9 L1432.0,1174.2 M1432.0,1202.0 L1428.1,1208.8 L1426.6,1217.0 L1420.6,1217.8 L1402.5,1212.5 L1398.8,1214.0 L1395.0,1221.5 L1387.5,1224.6 L1380.0,1224.1 L1366.4,1226.8 L1366.4,1232.8 L1364.9,1240.3 L1358.9,1255.4 L1357.4,1258.4 L1351.4,1267.4 L1342.4,1273.4 L1330.3,1281.7 L1325.8,1287.0 L1321.3,1297.5 L1319.1,1308.0 L1316.8,1311.0 L1310.8,1316.3 L1308.5,1318.5 L1307.8,1323.1 L1304.8,1327.6 L1306.3,1330.6 L1307.0,1335.1 L1309.3,1338.8 L1315.3,1342.0 M1259.7,1342.0 L1274.7,1341.1 M1285.2,1342.0 L1294.3,1336.6 L1306.3,1335.8 M1432.0,1173.9 L1441.0,1173.0 L1444.8,1174.9 M1444.8,1172.7 L1447.0,1171.9 L1478.6,1180.9 L1480.9,1184.0 L1477.1,1190.7 L1476.4,1194.5 L1480.1,1196.7 L1490.6,1199.7 L1502.7,1200.0 L1508.7,1199.0 L1520.7,1200.5 L1527.5,1204.3 L1532.0,1210.3 L1532.8,1215.5 L1535.8,1217.0 L1546.3,1217.8 L1552.3,1219.0 L1555.3,1217.8 L1558.3,1214.0 L1564.3,1209.1 L1568.8,1208.5 L1574.9,1211.0 L1582.4,1215.5 L1585.4,1220.8 L1586.9,1222.3 L1622.2,1234.6 L1626.7,1237.0 L1629.0,1241.8 L1631.2,1244.1 L1640.3,1244.6 L1638.0,1252.4 L1635.8,1258.4 L1639.5,1265.9 L1641.8,1268.9 L1635.8,1271.9 L1627.5,1269.7 L1623.0,1270.4 L1620.0,1274.2 L1619.2,1280.9 L1619.2,1286.2 L1617.0,1287.7 L1612.5,1287.0 L1610.2,1284.0 L1609.4,1280.2 L1604.9,1278.7 L1597.4,1278.7 L1582.4,1281.7 L1561.3,1286.2 L1558.3,1288.5 L1550.8,1299.0 L1546.3,1302.0 L1544.0,1306.5 L1544.0,1311.0 L1550.8,1313.3 L1564.3,1312.5 L1574.9,1317.0 L1576.4,1318.5 L1574.9,1323.8 L1578.6,1327.6 L1581.6,1332.1 L1583.9,1339.6 L1584.6,1342.0 M1444.8,1174.9 L1442.5,1181.7 L1438.0,1192.2 L1432.0,1201.2 M1627.5,1236.6 L1635.0,1231.3 L1644.0,1226.8 L1656.1,1224.6 L1672.0,1222.3 M1000.1,1342.0 L999.4,1346.5 L997.9,1354.0 L995.6,1361.5 L991.8,1369.1 L990.3,1375.8 L983.6,1381.8 L979.8,1387.1 L982.8,1395.4 L979.8,1405.9 L970.8,1414.2 L972.3,1421.7 L967.0,1430.7 L961.0,1438.2 L955.0,1445.8 L953.5,1450.3 L952.8,1456.3 M997.9,1354.8 L1006.1,1358.5 L1009.9,1360.0 L1018.2,1366.1 L1025.7,1366.1 L1037.7,1370.6 L1043.7,1366.1 L1055.8,1364.6 L1067.8,1370.3 L1079.8,1372.1 L1088.1,1369.1 L1091.1,1363.1 L1102.4,1360.0 L1111.4,1359.3 L1117.4,1357.8 L1124.9,1359.3 L1127.9,1367.6 L1132.5,1370.6 L1150.5,1381.1 L1159.5,1382.9 L1173.1,1383.8 L1177.6,1382.6 L1185.1,1377.3 L1192.0,1370.6 M952.8,1456.3 L955.0,1455.5 L959.5,1458.5 L964.0,1460.8 L967.0,1459.3 L973.1,1456.3 L980.6,1450.3 L985.1,1452.5 L991.1,1448.8 L1000.1,1447.3 L1009.1,1442.8 L1027.2,1442.5 L1037.7,1434.5 L1049.7,1432.2 L1063.3,1434.5 L1075.3,1439.7 L1085.8,1442.8 L1096.4,1441.2 L1103.9,1439.0 L1120.4,1444.0 L1147.5,1440.9 L1153.5,1443.5 L1165.5,1445.8 L1182.1,1453.3 L1192.0,1459.3 M1192.0,1367.6 L1196.5,1366.1 L1204.0,1365.3 L1213.1,1364.3 L1216.8,1361.5 L1219.1,1358.5 L1224.3,1357.0 L1227.3,1355.5 L1235.6,1352.5 L1243.1,1348.3 L1252.2,1345.0 L1259.7,1342.8 L1264.2,1342.0 M1271.7,1342.8 L1279.2,1343.5 L1285.2,1342.0 M1313.8,1342.0 L1317.6,1346.5 L1319.8,1354.0 L1320.6,1361.5 L1324.3,1369.1 L1325.1,1379.6 L1326.6,1388.6 L1328.1,1395.4 L1326.6,1400.6 L1328.8,1406.7 L1331.8,1414.2 L1334.9,1419.4 L1334.1,1422.5 L1330.3,1420.2 L1324.3,1418.7 L1315.3,1418.7 L1309.3,1420.2 L1300.3,1425.5 L1295.8,1427.7 L1285.2,1433.0 L1279.2,1436.7 L1273.2,1440.5 L1241.6,1456.3 L1234.1,1462.3 L1230.3,1462.3 L1223.6,1460.0 L1207.0,1459.3 L1203.3,1458.5 L1198.0,1460.8 L1193.5,1458.5 M1334.1,1419.4 L1339.4,1418.7 L1343.9,1417.9 L1351.4,1413.9 L1402.5,1411.9 L1410.8,1412.7 L1405.5,1409.7 L1401.0,1410.9 L1407.0,1408.2 L1413.1,1410.4 L1432.0,1415.7 M1201.8,1467.6 L1207.0,1469.8 L1214.6,1470.6 L1222.1,1467.6 L1226.6,1463.8 L1223.6,1462.3 L1219.1,1466.1 L1210.0,1467.6 L1201.8,1467.6 M1193.5,1459.3 L1196.5,1466.1 L1197.3,1463.1 M1432.0,1415.7 L1439.5,1418.7 L1446.3,1421.4 L1448.5,1420.2 L1445.5,1414.2 L1440.3,1406.7 L1447.0,1405.9 L1454.6,1401.4 L1466.6,1391.6 L1459.1,1400.6 L1453.1,1406.7 L1451.5,1411.2 L1453.1,1417.2 L1457.6,1421.7 L1465.1,1424.7 L1477.1,1432.2 L1486.1,1435.2 L1495.2,1439.0 L1516.2,1451.8 L1537.3,1463.8 L1552.3,1471.3 L1559.8,1478.8 L1564.3,1486.4 L1570.3,1498.4 L1573.4,1503.7 L1578.6,1508.2 L1586.9,1508.2 L1589.1,1504.4 L1588.4,1498.4 L1586.9,1492.4 L1588.4,1486.4 L1591.4,1483.4 L1602.7,1480.0 L1607.2,1482.6 L1615.5,1481.8 L1624.5,1478.1 L1618.5,1484.1 L1632.0,1488.6 L1645.5,1496.1 L1672.0,1499.1 M1584.6,1342.0 L1589.9,1350.3 L1595.9,1357.8 L1594.4,1361.5 L1586.9,1363.1 L1583.9,1366.1 L1585.4,1373.6 L1582.4,1378.8 L1580.1,1382.6 L1582.4,1385.6 L1588.4,1390.1 L1589.9,1394.6 L1586.9,1403.7 L1586.1,1409.7 L1588.4,1420.2 L1586.9,1429.2 L1586.1,1436.7 L1580.9,1442.8 L1579.4,1448.8 L1582.4,1457.8 L1586.1,1466.1 L1580.9,1478.1 L1589.1,1484.1 M1589.1,1484.1 L1591.4,1487.9 L1588.4,1492.4 L1589.1,1501.4 L1589.9,1506.7 L1586.9,1511.2 L1579.4,1514.9 L1570.3,1518.7 L1566.6,1522.5 L1565.8,1528.5 L1570.3,1536.0 L1576.4,1548.0 L1580.1,1551.8 L1591.4,1553.3 L1600.4,1554.0 L1612.5,1563.1 L1616.2,1567.6 L1616.2,1575.1 L1617.7,1581.1 M1597.4,1573.6 L1603.4,1572.1 L1609.4,1576.6 L1612.5,1579.6 L1604.9,1579.6 L1597.4,1573.6 M1617.7,1581.1 L1627.5,1579.3"/>
<line x1="952.0" y1="142.0" x2="952.0" y2="1581.7" stroke="#b0b0b0" stroke-width="1.6"/>
<line x1="1192.0" y1="142.0" x2="1192.0" y2="1581.7" stroke="#b0b0b0" stroke-width="1.6"/>
<line x1="1432.0" y1="142.0" x2="1432.0" y2="1581.7" stroke="#b0b0b0" stroke-width="1.6"/>
<line x1="712.0" y1="501.9" x2="1672.0" y2="501.9" stroke="#b0b0b0" stroke-width="1.6"/>
<line x1="712.0" y1="861.9" x2="1672.0" y2="861.9" stroke="#b0b0b0" stroke-width="1.6"/>
<line x1="712.0" y1="1221.8" x2="1672.0" y2="1221.8" stroke="#b0b0b0" stroke-width="1.6"/>
<text x="705.0" y="309.0" transform="rotate(-27 705.0 309.0)" font-family="'DejaVu Sans', 'Liberation Sans', sans-serif" font-size="16.5" fill="#808080">1020 hPa</text>
<text x="1536.3" y="557.2" transform="rotate(2.7 1536.3 557.2)" font-family="'DejaVu Sans', 'Liberation Sans', sans-serif" font-size="16.5" fill="#808080">1016 hPa</text>
<text x="1081.2" y="848.6" transform="rotate(-6.75 1081.2 848.6)" font-family="'DejaVu Sans', 'Liberation Sans', sans-serif" font-size="16.5" fill="#808080">1016 hPa</text>
<text x="1657.4" y="271.8" transform="rotate(3 1657.4 271.8)" font-family="'DejaVu Sans', 'Liberation Sans', sans-serif" font-size="16.5" fill="#808080">1016 hPa</text>
<circle cx="1383.4" cy="526.4" r="0.8" fill="#808080"/>
</g>
<rect x="712.0" y="142.0" width="960.0" height="1439.7" fill="none" stroke="#000" stroke-width="1.75"/>
<line x1="705.0" y1="142.0" x2="712.0" y2="142.0" stroke="#000" stroke-width="1.75"/>
<text x="697.9" y="157.3" font-family="'DejaVu Sans', 'Liberation Sans', sans-serif" font-size="37.3" text-anchor="end">42.5°N</text>
<line x1="705.0" y1="501.9" x2="712.0" y2="501.9" stroke="#000" stroke-width="1.75"/>
<text x="697.9" y="517.2" font-family="'DejaVu Sans', 'Liberation Sans', sans-serif" font-size="37.3" text-anchor="end">41°N</text>
<line x1="705.0" y1="861.9" x2="712.0" y2="861.9" stroke="#000" stroke-width="1.75"/>
<text x="697.9" y="877.1" font-family="'DejaVu Sans', 'Liberation Sans', sans-serif" font-size="37.3" text-anchor="end">39.5°N</text>
<line x1="705.0" y1="1221.8" x2="712.0" y2="1221.8" stroke="#000" stroke-width="1.75"/>
<text x="697.9" y="1237.1" font-family="'DejaVu Sans', 'Liberation Sans', sans-serif" font-size="37.3" text-anchor="end">38°N</text>
<line x1="705.0" y1="1581.7" x2="712.0" y2="1581.7" stroke="#000" stroke-width="1.75"/>
<text x="697.9" y="1597.0" font-family="'DejaVu Sans', 'Liberation Sans', sans-serif" font-size="37.3" text-anchor="end">36.5°N</text>
<line x1="712.0" y1="1581.7" x2="712.0" y2="1588.7" stroke="#000" stroke-width="1.75"/>
<text x="712.3" y="1624.9" font-family="'DejaVu Sans', 'Liberation Sans', sans-serif" font-size="37.3" text-anchor="middle">10°W</text>
<line x1="952.0" y1="1581.7" x2="952.0" y2="1588.7" stroke="#000" stroke-width="1.75"/>
<text x="952.3" y="1624.9" font-family="'DejaVu Sans', 'Liberation Sans', sans-serif" font-size="37.3" text-anchor="middle">9°W</text>
<line x1="1192.0" y1="1581.7" x2="1192.0" y2="1588.7" stroke="#000" stroke-width="1.75"/>
<text x="1192.3" y="1624.9" font-family="'DejaVu Sans', 'Liberation Sans', sans-serif" font-size="37.3" text-anchor="middle">8°W</text>
<line x1="1432.0" y1="1581.7" x2="1432.0" y2="1588.7" stroke="#000" stroke-width="1.75"/>
<text x="1432.3" y="1624.9" font-family="'DejaVu Sans', 'Liberation Sans', sans-serif" font-size="37.3" text-anchor="middle">7°W</text>
<line x1="1672.0" y1="1581.7" x2="1672.0" y2="1588.7" stroke="#000" stroke-width="1.75"/>
<text x="1672.3" y="1624.9" font-family="'DejaVu Sans', 'Liberation Sans', sans-serif" font-size="37.3" text-anchor="middle">6°W</text>
<rect x="1674.1" y="1527.60" width="35.80" height="28.00" fill="#fffff7"/>
<rect x="1674.1" y="1499.89" width="35.80" height="28.00" fill="#ffffe3"/>
<rect x="1674.1" y="1472.19" width="35.80" height="28.00" fill="#ffffd0"/>
<rect x="1674.1" y="1444.48" width="35.80" height="28.00" fill="#ffffbc"/>
<rect x="1674.1" y="1416.78" width="35.80" height="28.00" fill="#ffffa4"/>
<rect x="1674.1" y="1389.08" width="35.80" height="28.00" fill="#ffff91"/>
<rect x="1674.1" y="1361.37" width="35.80" height="28.00" fill="#ffff7d"/>
<rect x="1674.1" y="1333.67" width="35.80" height="28.00" fill="#ffff69"/>
<rect x="1674.1" y="1305.96" width="35.80" height="28.00" fill="#ffff56"/>
<rect x="1674.1" y="1278.26" width="35.80" height="28.00" fill="#ffff42"/>
<rect x="1674.1" y="1250.56" width="35.80" height="28.00" fill="#ffff2e"/>
<rect x="1674.1" y="1222.85" width="35.80" height="28.00" fill="#ffff1b"/>
<rect x="1674.1" y="1195.15" width="35.80" height="28.00" fill="#ffff03"/>
<rect x="1674.1" y="1167.44" width="35.80" height="28.00" fill="#fff400"/>
<rect x="1674.1" y="1139.74" width="35.80" height="28.00" fill="#ffe700"/>
<rect x="1674.1" y="1112.04" width="35.80" height="28.00" fill="#ffda00"/>
<rect x="1674.1" y="1084.33" width="35.80" height="28.00" fill="#ffcc00"/>
<rect x="1674.1" y="1056.63" width="35.80" height="28.00" fill="#ffbf00"/>
<rect x="1674.1" y="1028.92" width="35.80" height="28.00" fill="#ffb200"/>
<rect x="1674.1" y="1001.22" width="35.80" height="28.00" fill="#ffa500"/>
<rect x="1674.1" y="973.52" width="35.80" height="28.00" fill="#ff9800"/>
<rect x="1674.1" y="945.81" width="35.80" height="28.00" fill="#ff8800"/>
<rect x="1674.1" y="918.11" width="35.80" height="28.00" fill="#ff7b00"/>
<rect x="1674.1" y="890.40" width="35.80" height="28.00" fill="#ff6e00"/>
<rect x="1674.1" y="862.70" width="35.80" height="28.00" fill="#ff6100"/>
<rect x="1674.1" y="835.00" width="35.80" height="28.00" fill="#ff5400"/>
<rect x="1674.1" y="807.29" width="35.80" height="28.00" fill="#ff4700"/>
<rect x="1674.1" y="779.59" width="35.80" height="28.00" fill="#ff3a00"/>
<rect x="1674.1" y="751.88" width="35.80" height="28.00" fill="#ff2c00"/>
<rect x="1674.1" y="724.18" width="35.80" height="28.00" fill="#ff1d00"/>
<rect x="1674.1" y="696.48" width="35.80" height="28.00" fill="#ff1000"/>
<rect x="1674.1" y="668.77" width="35.80" height="28.00" fill="#ff0200"/>
<rect x="1674.1" y="641.07" width="35.80" height="28.00" fill="#f40000"/>
<rect x="1674.1" y="613.36" width="35.80" height="28.00" fill="#e70000"/>
<rect x="1674.1" y="585.66" width="35.80" height="28.00" fill="#da0000"/>
<rect x="1674.1" y="557.96" width="35.80" height="28.00" fill="#cd0000"/>
<rect x="1674.1" y="530.25" width="35.80" height="28.00" fill="#c00000"/>
<rect x="1674.1" y="502.55" width="35.80" height="28.00" fill="#b00000"/>
<rect x="1674.1" y="474.84" width="35.80" height="28.00" fill="#a30000"/>
<rect x="1674.1" y="447.14" width="35.80" height="28.00" fill="#960000"/>
<rect x="1674.1" y="419.44" width="35.80" height="28.00" fill="#890000"/>
<rect x="1674.1" y="391.73" width="35.80" height="28.00" fill="#7b0000"/>
<rect x="1674.1" y="364.03" width="35.80" height="28.00" fill="#6e0000"/>
<rect x="1674.1" y="336.32" width="35.80" height="28.00" fill="#610000"/>
<rect x="1674.1" y="308.62" width="35.80" height="28.00" fill="#540000"/>
<rect x="1674.1" y="280.92" width="35.80" height="28.00" fill="#470000"/>
<rect x="1674.1" y="253.21" width="35.80" height="28.00" fill="#370000"/>
<rect x="1674.1" y="225.51" width="35.80" height="28.00" fill="#2a0000"/>
<rect x="1674.1" y="197.80" width="35.80" height="28.00" fill="#1d0000"/>
<rect x="1674.1" y="170.10" width="35.80" height="28.00" fill="#100000"/>
<rect x="1674.1" y="142.00" width="35.80" height="28.40" fill="#0b0000"/>
<line x1="1674.1" y1="1555.30" x2="1709.9" y2="1555.30" stroke="#000" stroke-width="1.1"/>
<line x1="1674.1" y1="1527.60" x2="1709.9" y2="1527.60" stroke="#000" stroke-width="1.1"/>
<line x1="1674.1" y1="1499.89" x2="1709.9" y2="1499.89" stroke="#000" stroke-width="1.1"/>
<line x1="1674.1" y1="1472.19" x2="1709.9" y2="1472.19" stroke="#000" stroke-width="1.1"/>
<line x1="1674.1" y1="1444.48" x2="1709.9" y2="1444.48" stroke="#000" stroke-width="1.1"/>
<line x1="1674.1" y1="1416.78" x2="1709.9" y2="1416.78" stroke="#000" stroke-width="1.1"/>
<line x1="1674.1" y1="1389.08" x2="1709.9" y2="1389.08" stroke="#000" stroke-width="1.1"/>
<line x1="1674.1" y1="1361.37" x2="1709.9" y2="1361.37" stroke="#000" stroke-width="1.1"/>
<line x1="1674.1" y1="1333.67" x2="1709.9" y2="1333.67" stroke="#000" stroke-width="1.1"/>
<line x1="1674.1" y1="1305.96" x2="1709.9" y2="1305.96" stroke="#000" stroke-width="1.1"/>
<line x1="1674.1" y1="1278.26" x2="1709.9" y2="1278.26" stroke="#000" stroke-width="1.1"/>
<line x1="1674.1" y1="1250.56" x2="1709.9" y2="1250.56" stroke="#000" stroke-width="1.1"/>
<line x1="1674.1" y1="1222.85" x2="1709.9" y2="1222.85" stroke="#000" stroke-width="1.1"/>
<line x1="1674.1" y1="1195.15" x2="1709.9" y2="1195.15" stroke="#000" stroke-width="1.1"/>
<line x1="1674.1" y1="1167.44" x2="1709.9" y2="1167.44" stroke="#000" stroke-width="1.1"/>
<line x1="1674.1" y1="1139.74" x2="1709.9" y2="1139.74" stroke="#000" stroke-width="1.1"/>
<line x1="1674.1" y1="1112.04" x2="1709.9" y2="1112.04" stroke="#000" stroke-width="1.1"/>
<line x1="1674.1" y1="1084.33" x2="1709.9" y2="1084.33" stroke="#000" stroke-width="1.1"/>
<line x1="1674.1" y1="1056.63" x2="1709.9" y2="1056.63" stroke="#000" stroke-width="1.1"/>
<line x1="1674.1" y1="1028.92" x2="1709.9" y2="1028.92" stroke="#000" stroke-width="1.1"/>
<line x1="1674.1" y1="1001.22" x2="1709.9" y2="1001.22" stroke="#000" stroke-width="1.1"/>
<line x1="1674.1" y1="973.52" x2="1709.9" y2="973.52" stroke="#000" stroke-width="1.1"/>
<line x1="1674.1" y1="945.81" x2="1709.9" y2="945.81" stroke="#000" stroke-width="1.1"/>
<line x1="1674.1" y1="918.11" x2="1709.9" y2="918.11" stroke="#000" stroke-width="1.1"/>
<line x1="1674.1" y1="890.40" x2="1709.9" y2="890.40" stroke="#000" stroke-width="1.1"/>
<line x1="1674.1" y1="862.70" x2="1709.9" y2="862.70" stroke="#000" stroke-width="1.1"/>
<line x1="1674.1" y1="835.00" x2="1709.9" y2="835.00" stroke="#000" stroke-width="1.1"/>
<line x1="1674.1" y1="807.29" x2="1709.9" y2="807.29" stroke="#000" stroke-width="1.1"/>
<line x1="1674.1" y1="779.59" x2="1709.9" y2="779.59" stroke="#000" stroke-width="1.1"/>
<line x1="1674.1" y1="751.88" x2="1709.9" y2="751.88" stroke="#000" stroke-width="1.1"/>
<line x1="1674.1" y1="724.18" x2="1709.9" y2="724.18" stroke="#000" stroke-width="1.1"/>
<line x1="1674.1" y1="696.48" x2="1709.9" y2="696.48" stroke="#000" stroke-width="1.1"/>
<line x1="1674.1" y1="668.77" x2="1709.9" y2="668.77" stroke="#000" stroke-width="1.1"/>
<line x1="1674.1" y1="641.07" x2="1709.9" y2="641.07" stroke="#000" stroke-width="1.1"/>
<line x1="1674.1" y1="613.36" x2="1709.9" y2="613.36" stroke="#000" stroke-width="1.1"/>
<line x1="1674.1" y1="585.66" x2="1709.9" y2="585.66" stroke="#000" stroke-width="1.1"/>
<line x1="1674.1" y1="557.96" x2="1709.9" y2="557.96" stroke="#000" stroke-width="1.1"/>
<line x1="1674.1" y1="530.25" x2="1709.9" y2="530.25" stroke="#000" stroke-width="1.1"/>
<line x1="1674.1" y1="502.55" x2="1709.9" y2="502.55" stroke="#000" stroke-width="1.1"/>
<line x1="1674.1" y1="474.84" x2="1709.9" y2="474.84" stroke="#000" stroke-width="1.1"/>
<line x1="1674.1" y1="447.14" x2="1709.9" y2="447.14" stroke="#000" stroke-width="1.1"/>
<line x1="1674.1" y1="419.44" x2="1709.9" y2="419.44" stroke="#000" stroke-width="1.1"/>
<line x1="1674.1" y1="391.73" x2="1709.9" y2="391.73" stroke="#000" stroke-width="1.1"/>
<line x1="1674.1" y1="364.03" x2="1709.9" y2="364.03" stroke="#000" stroke-width="1.1"/>
<line x1="1674.1" y1="336.32" x2="1709.9" y2="336.32" stroke="#000" stroke-width="1.1"/>
<line x1="1674.1" y1="308.62" x2="1709.9" y2="308.62" stroke="#000" stroke-width="1.1"/>
<line x1="1674.1" y1="280.92" x2="1709.9" y2="280.92" stroke="#000" stroke-width="1.1"/>
<line x1="1674.1" y1="253.21" x2="1709.9" y2="253.21" stroke="#000" stroke-width="1.1"/>
<line x1="1674.1" y1="225.51" x2="1709.9" y2="225.51" stroke="#000" stroke-width="1.1"/>
<line x1="1674.1" y1="197.80" x2="1709.9" y2="197.80" stroke="#000" stroke-width="1.1"/>
<line x1="1674.1" y1="170.10" x2="1709.9" y2="170.10" stroke="#000" stroke-width="1.1"/>
<line x1="1709.9" y1="1555.30" x2="1716.9" y2="1555.30" stroke="#000" stroke-width="1.75"/>
<text x="1725.0" y="1569.1" font-family="'DejaVu Sans', 'Liberation Sans', sans-serif" font-size="37.3">0</text>
<line x1="1709.9" y1="1416.78" x2="1716.9" y2="1416.78" stroke="#000" stroke-width="1.75"/>
<text x="1725.0" y="1430.6" font-family="'DejaVu Sans', 'Liberation Sans', sans-serif" font-size="37.3">5</text>
<line x1="1709.9" y1="1278.26" x2="1716.9" y2="1278.26" stroke="#000" stroke-width="1.75"/>
<text x="1725.0" y="1292.1" font-family="'DejaVu Sans', 'Liberation Sans', sans-serif" font-size="37.3">10</text>
<line x1="1709.9" y1="1139.74" x2="1716.9" y2="1139.74" stroke="#000" stroke-width="1.75"/>
<text x="1725.0" y="1153.5" font-family="'DejaVu Sans', 'Liberation Sans', sans-serif" font-size="37.3">15</text>
<line x1="1709.9" y1="1001.22" x2="1716.9" y2="1001.22" stroke="#000" stroke-width="1.75"/>
<text x="1725.0" y="1015.0" font-family="'DejaVu Sans', 'Liberation Sans', sans-serif" font-size="37.3">20</text>
<line x1="1709.9" y1="862.70" x2="1716.9" y2="862.70" stroke="#000" stroke-width="1.75"/>
<text x="1725.0" y="876.5" font-family="'DejaVu Sans', 'Liberation Sans', sans-serif" font-size="37.3">25</text>
<line x1="1709.9" y1="724.18" x2="1716.9" y2="724.18" stroke="#000" stroke-width="1.75"/>
<text x="1725.0" y="738.0" font-family="'DejaVu Sans', 'Liberation Sans', sans-serif" font-size="37.3">30</text>
<line x1="1709.9" y1="585.66" x2="1716.9" y2="585.66" stroke="#000" stroke-width="1.75"/>
<text x="1725.0" y="599.5" font-family="'DejaVu Sans', 'Liberation Sans', sans-serif" font-size="37.3">35</text>
<line x1="1709.9" y1="447.14" x2="1716.9" y2="447.14" stroke="#000" stroke-width="1.75"/>
<text x="1725.0" y="460.9" font-family="'DejaVu Sans', 'Liberation Sans', sans-serif" font-size="37.3">40</text>
<line x1="1709.9" y1="308.62" x2="1716.9" y2="308.62" stroke="#000" stroke-width="1.75"/>
<text x="1725.0" y="322.4" font-family="'DejaVu Sans', 'Liberation Sans', sans-serif" font-size="37.3">45</text>
<line x1="1709.9" y1="170.10" x2="1716.9" y2="170.10" stroke="#000" stroke-width="1.75"/>
<text x="1725.0" y="183.9" font-family="'DejaVu Sans', 'Liberation Sans', sans-serif" font-size="37.3">50</text>
<text x="1191.3" y="45.4" font-family="'DejaVu Sans Mono', 'Liberation Mono', monospace" font-weight="bold" font-size="37.6" text-anchor="middle">850hPa Cyclonic Vorticity, Low Level Wind Crossovers (10m Blue 850hPa green) for MuCape &gt; 250 J and Mslp</text>
<text x="1191.3" y="89.1" font-family="'DejaVu Sans Mono', 'Liberation Mono', monospace" font-weight="bold" font-size="37.6" text-anchor="middle">ARPEGE 0.1º Forecast: Friday 2026-04-17 T 15Z</text>
<text x="1191.3" y="131.0" font-family="'DejaVu Sans Mono', 'Liberation Mono', monospace" font-weight="bold" font-size="37.6" text-anchor="middle">Run 2026-04-15 T 00Z +63 hour</text>
</svg>
</body></html>
